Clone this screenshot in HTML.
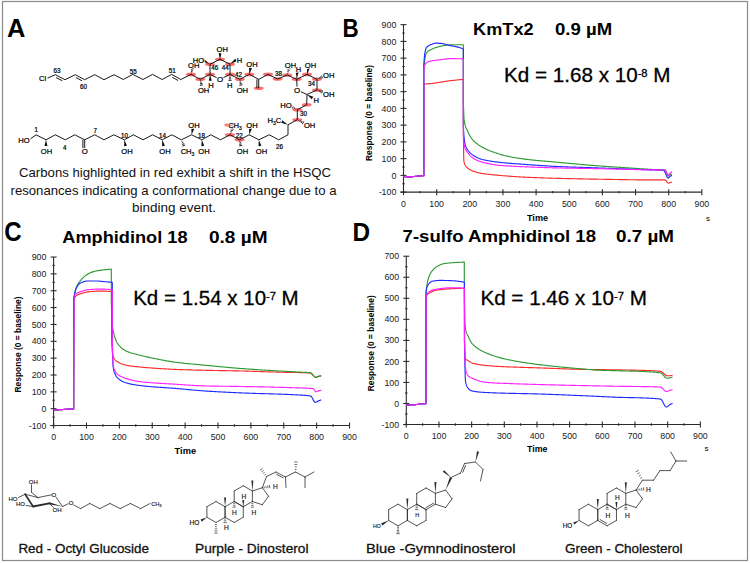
<!DOCTYPE html>
<html><head><meta charset="utf-8"><style>
html,body{margin:0;padding:0;background:#fff;}
svg{display:block;}
text{font-family:"Liberation Sans", sans-serif;}
</style></head><body>
<svg width="750" height="563" viewBox="0 0 750 563" font-family="Liberation Sans, sans-serif">
<rect width="750" height="563" fill="#fff"/>
<rect x="2.5" y="1.5" width="745" height="559" fill="none" stroke="#8a8a8a" stroke-width="1.2"/>
<text x="7.00" y="36.90" font-size="25.8" font-weight="bold" text-anchor="start" fill="#000" textLength="18.40" lengthAdjust="spacingAndGlyphs" >A</text>
<text x="342.40" y="36.90" font-size="25.8" font-weight="bold" text-anchor="start" fill="#000" textLength="16.20" lengthAdjust="spacingAndGlyphs" >B</text>
<text x="4.20" y="241.00" font-size="26.8" font-weight="bold" text-anchor="start" fill="#000" textLength="17.40" lengthAdjust="spacingAndGlyphs" >C</text>
<text x="352.60" y="241.00" font-size="26.3" font-weight="bold" text-anchor="start" fill="#000" textLength="17.60" lengthAdjust="spacingAndGlyphs" >D</text>
<text x="473.10" y="34.60" font-size="15.8" font-weight="bold" text-anchor="start" fill="#000" textLength="60.60" lengthAdjust="spacingAndGlyphs" >KmTx2</text>
<text x="555.00" y="34.60" font-size="15.8" font-weight="bold" text-anchor="start" fill="#000" textLength="57.10" lengthAdjust="spacingAndGlyphs" >0.9 µM</text>
<text x="62.30" y="242.60" font-size="15.8" font-weight="bold" text-anchor="start" fill="#000" textLength="125.20" lengthAdjust="spacingAndGlyphs" >Amphidinol 18</text>
<text x="209.00" y="242.60" font-size="15.8" font-weight="bold" text-anchor="start" fill="#000" textLength="58.50" lengthAdjust="spacingAndGlyphs" >0.8 µM</text>
<text x="402.60" y="242.40" font-size="15.8" font-weight="bold" text-anchor="start" fill="#000" textLength="193.40" lengthAdjust="spacingAndGlyphs" >7-sulfo Amphidinol 18</text>
<text x="616.00" y="242.40" font-size="15.8" font-weight="bold" text-anchor="start" fill="#000" textLength="58.00" lengthAdjust="spacingAndGlyphs" >0.7 µM</text>
<g stroke="#2b2b2b" stroke-width="1.1" fill="none">
<line x1="403.50" y1="24.65" x2="403.50" y2="192.65"/>
<line x1="400.50" y1="192.15" x2="701.85" y2="192.15"/>
<line x1="400.50" y1="192.15" x2="406.50" y2="192.15"/>
<line x1="402.30" y1="183.78" x2="404.70" y2="183.78"/>
<line x1="400.50" y1="175.40" x2="406.50" y2="175.40"/>
<line x1="402.30" y1="167.03" x2="404.70" y2="167.03"/>
<line x1="400.50" y1="158.65" x2="406.50" y2="158.65"/>
<line x1="402.30" y1="150.28" x2="404.70" y2="150.28"/>
<line x1="400.50" y1="141.90" x2="406.50" y2="141.90"/>
<line x1="402.30" y1="133.53" x2="404.70" y2="133.53"/>
<line x1="400.50" y1="125.15" x2="406.50" y2="125.15"/>
<line x1="402.30" y1="116.78" x2="404.70" y2="116.78"/>
<line x1="400.50" y1="108.40" x2="406.50" y2="108.40"/>
<line x1="402.30" y1="100.03" x2="404.70" y2="100.03"/>
<line x1="400.50" y1="91.65" x2="406.50" y2="91.65"/>
<line x1="402.30" y1="83.28" x2="404.70" y2="83.28"/>
<line x1="400.50" y1="74.90" x2="406.50" y2="74.90"/>
<line x1="402.30" y1="66.53" x2="404.70" y2="66.53"/>
<line x1="400.50" y1="58.15" x2="406.50" y2="58.15"/>
<line x1="402.30" y1="49.77" x2="404.70" y2="49.77"/>
<line x1="400.50" y1="41.40" x2="406.50" y2="41.40"/>
<line x1="402.30" y1="33.03" x2="404.70" y2="33.03"/>
<line x1="400.50" y1="24.65" x2="406.50" y2="24.65"/>
<line x1="403.50" y1="189.15" x2="403.50" y2="195.15"/>
<line x1="420.07" y1="190.95" x2="420.07" y2="193.35"/>
<line x1="436.65" y1="189.15" x2="436.65" y2="195.15"/>
<line x1="453.23" y1="190.95" x2="453.23" y2="193.35"/>
<line x1="469.80" y1="189.15" x2="469.80" y2="195.15"/>
<line x1="486.38" y1="190.95" x2="486.38" y2="193.35"/>
<line x1="502.95" y1="189.15" x2="502.95" y2="195.15"/>
<line x1="519.52" y1="190.95" x2="519.52" y2="193.35"/>
<line x1="536.10" y1="189.15" x2="536.10" y2="195.15"/>
<line x1="552.67" y1="190.95" x2="552.67" y2="193.35"/>
<line x1="569.25" y1="189.15" x2="569.25" y2="195.15"/>
<line x1="585.83" y1="190.95" x2="585.83" y2="193.35"/>
<line x1="602.40" y1="189.15" x2="602.40" y2="195.15"/>
<line x1="618.98" y1="190.95" x2="618.98" y2="193.35"/>
<line x1="635.55" y1="189.15" x2="635.55" y2="195.15"/>
<line x1="652.12" y1="190.95" x2="652.12" y2="193.35"/>
<line x1="668.70" y1="189.15" x2="668.70" y2="195.15"/>
<line x1="685.28" y1="190.95" x2="685.28" y2="193.35"/>
<line x1="701.85" y1="189.15" x2="701.85" y2="195.15"/>
</g>
<text x="396.30" y="195.25" font-size="8.8" font-weight="normal" text-anchor="end" fill="#1a1a1a" >-100</text>
<text x="396.30" y="178.50" font-size="8.8" font-weight="normal" text-anchor="end" fill="#1a1a1a" >0</text>
<text x="396.30" y="161.75" font-size="8.8" font-weight="normal" text-anchor="end" fill="#1a1a1a" >100</text>
<text x="396.30" y="145.00" font-size="8.8" font-weight="normal" text-anchor="end" fill="#1a1a1a" >200</text>
<text x="396.30" y="128.25" font-size="8.8" font-weight="normal" text-anchor="end" fill="#1a1a1a" >300</text>
<text x="396.30" y="111.50" font-size="8.8" font-weight="normal" text-anchor="end" fill="#1a1a1a" >400</text>
<text x="396.30" y="94.75" font-size="8.8" font-weight="normal" text-anchor="end" fill="#1a1a1a" >500</text>
<text x="396.30" y="78.00" font-size="8.8" font-weight="normal" text-anchor="end" fill="#1a1a1a" >600</text>
<text x="396.30" y="61.25" font-size="8.8" font-weight="normal" text-anchor="end" fill="#1a1a1a" >700</text>
<text x="396.30" y="44.50" font-size="8.8" font-weight="normal" text-anchor="end" fill="#1a1a1a" >800</text>
<text x="396.30" y="27.75" font-size="8.8" font-weight="normal" text-anchor="end" fill="#1a1a1a" >900</text>
<text x="403.50" y="206.75" font-size="8.8" font-weight="normal" text-anchor="middle" fill="#1a1a1a" >0</text>
<text x="436.65" y="206.75" font-size="8.8" font-weight="normal" text-anchor="middle" fill="#1a1a1a" >100</text>
<text x="469.80" y="206.75" font-size="8.8" font-weight="normal" text-anchor="middle" fill="#1a1a1a" >200</text>
<text x="502.95" y="206.75" font-size="8.8" font-weight="normal" text-anchor="middle" fill="#1a1a1a" >300</text>
<text x="536.10" y="206.75" font-size="8.8" font-weight="normal" text-anchor="middle" fill="#1a1a1a" >400</text>
<text x="569.25" y="206.75" font-size="8.8" font-weight="normal" text-anchor="middle" fill="#1a1a1a" >500</text>
<text x="602.40" y="206.75" font-size="8.8" font-weight="normal" text-anchor="middle" fill="#1a1a1a" >600</text>
<text x="635.55" y="206.75" font-size="8.8" font-weight="normal" text-anchor="middle" fill="#1a1a1a" >700</text>
<text x="668.70" y="206.75" font-size="8.8" font-weight="normal" text-anchor="middle" fill="#1a1a1a" >800</text>
<text x="701.85" y="206.75" font-size="8.8" font-weight="normal" text-anchor="middle" fill="#1a1a1a" >900</text>
<path d="M403.50,176.41 L404.57,176.56 L405.64,176.69 L406.71,176.78 L407.78,176.85 L408.85,176.89 L409.92,176.91 L410.99,176.88 L412.06,176.80 L413.13,176.68 L414.20,176.54 L415.26,176.40 L416.33,176.28 L417.40,176.18 L418.47,176.10 L419.54,176.02 L420.61,175.94 L421.68,175.87 L422.75,175.80 L423.82,175.74 L423.82,175.74 L423.82,84.11 L423.83,84.11 L423.85,84.11 L423.90,84.11 L423.95,84.11 L424.03,84.10 L424.12,84.10 L424.23,84.09 L424.35,84.08 L424.49,84.08 L424.65,84.07 L424.83,84.06 L425.02,84.04 L425.22,84.03 L425.45,84.02 L425.69,84.00 L425.95,83.98 L426.22,83.96 L426.51,83.94 L426.82,83.92 L427.14,83.89 L427.48,83.86 L427.84,83.83 L428.21,83.80 L428.60,83.77 L429.01,83.73 L429.43,83.69 L429.87,83.65 L430.33,83.60 L430.80,83.55 L431.29,83.50 L431.80,83.45 L432.32,83.39 L432.86,83.33 L433.42,83.27 L433.99,83.20 L434.58,83.12 L435.18,83.03 L435.81,82.94 L436.44,82.84 L437.10,82.73 L437.77,82.62 L438.46,82.51 L439.17,82.39 L439.89,82.28 L440.63,82.17 L441.38,82.05 L442.15,81.93 L442.94,81.80 L443.75,81.67 L444.57,81.54 L445.41,81.41 L446.26,81.27 L447.13,81.14 L448.02,81.01 L448.93,80.89 L449.85,80.77 L450.79,80.66 L451.74,80.54 L452.71,80.43 L453.70,80.32 L454.70,80.20 L455.72,80.09 L456.76,79.99 L457.82,79.88 L458.89,79.78 L459.97,79.68 L461.08,79.59 L462.20,79.50 L463.34,79.41 L463.34,79.41 L463.37,125.15 L463.39,126.92 L463.41,128.82 L463.43,130.86 L463.45,133.04 L463.47,135.34 L463.50,137.78 L463.52,140.32 L463.55,142.94 L463.58,145.62 L463.61,148.31 L463.64,150.96 L463.67,153.50 L463.71,155.83 L463.75,157.84 L463.78,159.37 L463.83,160.26 L463.87,160.61 L463.92,160.95 L463.97,161.28 L464.02,161.61 L464.07,161.93 L464.13,162.24 L464.19,162.54 L464.25,162.82 L464.32,163.09 L464.36,163.24 L464.39,163.35 L464.47,163.59 L464.55,163.81 L464.63,164.02 L464.72,164.21 L464.81,164.40 L464.91,164.58 L465.02,164.76 L465.13,164.96 L465.24,165.18 L465.36,165.38 L465.37,165.40 L465.50,165.61 L465.63,165.83 L465.78,166.05 L465.93,166.26 L466.09,166.47 L466.26,166.68 L466.35,166.78 L466.44,166.89 L466.63,167.09 L466.83,167.29 L467.04,167.48 L467.27,167.68 L467.35,167.75 L467.50,167.88 L467.75,168.09 L468.01,168.30 L468.29,168.51 L468.34,168.55 L468.58,168.73 L468.89,168.96 L469.22,169.18 L469.34,169.26 L469.56,169.41 L469.92,169.64 L470.31,169.87 L470.33,169.88 L470.71,170.09 L471.14,170.32 L471.32,170.41 L471.59,170.54 L472.07,170.75 L472.32,170.86 L472.57,170.96 L473.10,171.16 L473.31,171.24 L473.66,171.36 L474.25,171.57 L474.31,171.59 L474.87,171.77 L475.30,171.90 L475.53,171.97 L476.23,172.18 L476.30,172.20 L476.96,172.38 L477.29,172.46 L477.74,172.58 L478.29,172.71 L478.56,172.77 L479.28,172.93 L479.42,172.96 L480.28,173.13 L480.33,173.14 L481.27,173.31 L481.29,173.32 L482.26,173.48 L482.31,173.48 L483.26,173.63 L483.38,173.65 L484.25,173.78 L484.52,173.82 L485.25,173.92 L485.71,173.98 L486.24,174.05 L486.97,174.14 L487.24,174.18 L488.23,174.29 L488.31,174.30 L489.23,174.41 L489.71,174.46 L490.22,174.52 L491.20,174.62 L491.21,174.62 L492.21,174.72 L492.76,174.78 L493.20,174.82 L494.20,174.92 L494.42,174.94 L495.19,175.01 L496.17,175.10 L496.19,175.10 L497.18,175.19 L498.01,175.26 L498.18,175.27 L499.17,175.36 L499.96,175.43 L500.17,175.45 L501.16,175.53 L502.01,175.60 L502.15,175.62 L503.15,175.70 L504.14,175.78 L504.18,175.79 L505.14,175.86 L506.13,175.94 L506.47,175.97 L507.13,176.02 L508.12,176.10 L508.89,176.16 L509.12,176.18 L510.11,176.25 L511.10,176.33 L511.44,176.35 L512.10,176.40 L513.09,176.47 L514.09,176.54 L514.14,176.54 L515.08,176.61 L516.08,176.67 L516.98,176.73 L517.07,176.74 L518.07,176.80 L519.06,176.86 L519.98,176.92 L520.06,176.92 L521.05,176.98 L522.04,177.03 L523.04,177.09 L523.15,177.09 L524.03,177.14 L525.03,177.19 L526.02,177.24 L526.50,177.26 L527.02,177.28 L528.01,177.33 L529.01,177.37 L530.00,177.42 L530.03,177.42 L530.99,177.46 L531.99,177.50 L532.98,177.54 L533.76,177.57 L533.98,177.58 L534.97,177.62 L535.97,177.65 L536.96,177.69 L537.70,177.72 L537.96,177.73 L538.95,177.76 L539.95,177.80 L540.94,177.83 L541.86,177.86 L541.93,177.87 L542.93,177.90 L543.92,177.93 L544.92,177.96 L545.91,177.99 L546.24,178.00 L546.91,178.02 L547.90,178.05 L548.90,178.08 L549.89,178.11 L550.88,178.14 L550.88,178.14 L551.88,178.17 L552.87,178.20 L553.87,178.23 L554.86,178.25 L555.76,178.28 L555.86,178.28 L556.85,178.31 L557.85,178.33 L558.84,178.36 L559.84,178.39 L560.83,178.41 L560.93,178.42 L561.82,178.44 L562.82,178.46 L563.81,178.49 L564.81,178.52 L565.80,178.54 L566.38,178.55 L566.80,178.57 L567.79,178.59 L568.79,178.61 L569.78,178.64 L570.77,178.66 L571.77,178.69 L572.13,178.69 L572.76,178.71 L573.76,178.73 L574.75,178.75 L575.75,178.78 L576.74,178.80 L577.74,178.82 L578.20,178.83 L578.73,178.84 L579.73,178.86 L580.72,178.89 L581.71,178.91 L582.71,178.93 L583.70,178.95 L584.61,178.97 L584.70,178.97 L585.69,178.99 L586.69,179.01 L587.68,179.03 L588.68,179.05 L589.67,179.07 L590.66,179.08 L591.38,179.10 L591.66,179.10 L592.65,179.12 L593.65,179.14 L594.64,179.16 L595.64,179.17 L596.63,179.19 L597.63,179.21 L598.52,179.22 L598.62,179.22 L599.62,179.24 L600.61,179.26 L601.60,179.27 L602.60,179.29 L603.59,179.30 L604.59,179.32 L605.58,179.34 L606.06,179.34 L606.58,179.35 L607.57,179.37 L608.57,179.39 L609.56,179.40 L610.55,179.42 L611.55,179.44 L612.54,179.45 L613.54,179.47 L614.03,179.48 L614.53,179.49 L615.53,179.50 L616.52,179.52 L617.52,179.53 L618.51,179.55 L619.51,179.57 L620.50,179.58 L621.49,179.60 L622.43,179.61 L622.49,179.61 L623.48,179.63 L624.48,179.65 L625.47,179.66 L626.47,179.68 L627.46,179.69 L628.46,179.70 L629.45,179.72 L630.44,179.73 L631.30,179.74 L631.44,179.74 L632.43,179.76 L633.43,179.77 L634.42,179.78 L635.42,179.79 L636.41,179.81 L637.41,179.82 L638.40,179.83 L639.40,179.84 L640.39,179.85 L640.67,179.85 L641.38,179.86 L642.38,179.86 L643.37,179.87 L644.37,179.88 L645.36,179.89 L646.36,179.89 L647.35,179.90 L648.35,179.90 L649.34,179.91 L650.33,179.91 L650.56,179.91 L651.33,179.92 L652.32,179.92 L653.32,179.92 L654.31,179.92 L655.31,179.92 L656.30,179.92 L657.30,179.92 L658.29,179.92 L659.29,179.92 L660.28,179.92 L661.00,179.92 L661.27,179.92 L662.27,179.92 L663.26,179.92 L664.26,179.92 L665.25,179.92 L666.25,180.71 L667.24,182.42 L668.24,183.10 L669.23,182.85 L670.22,182.55 L671.22,182.30 L672.01,182.10" fill="none" stroke="#ff2a2a" stroke-width="1.15" stroke-linejoin="round"/>
<path d="M403.50,176.41 L404.57,176.56 L405.64,176.69 L406.71,176.78 L407.78,176.85 L408.85,176.89 L409.92,176.91 L410.99,176.88 L412.06,176.80 L413.13,176.68 L414.20,176.54 L415.26,176.40 L416.33,176.28 L417.40,176.18 L418.47,176.10 L419.54,176.02 L420.61,175.94 L421.68,175.87 L422.75,175.80 L423.82,175.74 L423.82,175.74 L423.82,68.20 L423.83,68.11 L423.85,67.86 L423.90,67.44 L423.95,66.85 L424.03,66.11 L424.12,65.23 L424.23,64.21 L424.35,63.10 L424.49,61.90 L424.65,60.67 L424.83,59.46 L425.02,58.32 L425.22,57.25 L425.45,56.16 L425.69,55.10 L425.95,54.15 L426.22,53.40 L426.51,52.93 L426.82,52.54 L427.14,52.16 L427.48,51.80 L427.84,51.47 L428.21,51.16 L428.60,50.87 L429.01,50.61 L429.43,50.37 L429.87,50.14 L430.33,49.92 L430.80,49.70 L431.29,49.47 L431.80,49.22 L432.32,48.98 L432.86,48.74 L433.42,48.50 L433.99,48.26 L434.58,48.03 L435.18,47.80 L435.81,47.58 L436.44,47.37 L437.10,47.16 L437.77,46.97 L438.46,46.78 L439.17,46.61 L439.89,46.44 L440.63,46.28 L441.38,46.12 L442.15,45.96 L442.94,45.80 L443.75,45.65 L444.57,45.50 L445.41,45.36 L446.26,45.23 L447.13,45.12 L448.02,45.03 L448.93,44.96 L449.85,44.92 L450.79,44.90 L451.74,44.88 L452.71,44.86 L453.70,44.84 L454.70,44.82 L455.72,44.80 L456.76,44.79 L457.82,44.78 L458.89,44.77 L459.97,44.76 L461.08,44.75 L462.20,44.75 L463.34,44.75 L463.34,44.75 L463.44,105.05 L463.45,105.49 L463.47,105.97 L463.49,106.48 L463.52,107.02 L463.54,107.60 L463.56,108.21 L463.59,108.87 L463.62,109.56 L463.64,110.29 L463.67,111.05 L463.71,111.85 L463.74,112.69 L463.77,113.54 L463.81,114.42 L463.85,115.31 L463.89,116.20 L463.94,117.07 L463.98,117.91 L464.03,118.69 L464.08,119.37 L464.14,119.92 L464.20,120.33 L464.26,120.72 L464.32,121.11 L464.39,121.52 L464.43,121.76 L464.46,121.93 L464.53,122.35 L464.61,122.77 L464.70,123.19 L464.79,123.62 L464.88,124.05 L464.98,124.48 L465.08,124.90 L465.19,125.32 L465.31,125.74 L465.42,126.12 L465.43,126.15 L465.56,126.56 L465.70,126.95 L465.85,127.34 L466.00,127.72 L466.16,128.10 L466.33,128.47 L466.42,128.66 L466.51,128.85 L466.70,129.23 L466.90,129.62 L467.11,130.05 L467.33,130.52 L467.41,130.70 L467.57,131.05 L467.82,131.60 L468.08,132.18 L468.35,132.76 L468.41,132.88 L468.65,133.37 L468.96,133.99 L469.28,134.62 L469.40,134.84 L469.63,135.25 L469.99,135.90 L470.37,136.55 L470.40,136.59 L470.78,137.20 L471.20,137.85 L471.39,138.12 L471.65,138.49 L472.13,139.12 L472.39,139.43 L472.63,139.72 L473.16,140.30 L473.38,140.54 L473.72,140.89 L474.31,141.48 L474.37,141.54 L474.94,142.07 L475.37,142.45 L475.60,142.65 L476.29,143.24 L476.36,143.29 L477.03,143.82 L477.36,144.07 L477.80,144.40 L478.35,144.79 L478.62,144.97 L479.35,145.46 L479.48,145.54 L480.34,146.09 L480.39,146.12 L481.34,146.69 L481.36,146.70 L482.33,147.27 L482.37,147.29 L483.33,147.82 L483.45,147.88 L484.32,148.34 L484.58,148.47 L485.31,148.83 L485.77,149.05 L486.31,149.30 L487.03,149.63 L487.30,149.75 L488.30,150.17 L488.37,150.20 L489.29,150.58 L489.77,150.76 L490.29,150.96 L491.26,151.33 L491.28,151.33 L492.28,151.70 L492.82,151.90 L493.27,152.06 L494.26,152.41 L494.48,152.48 L495.26,152.75 L496.23,153.08 L496.25,153.08 L497.25,153.41 L498.07,153.67 L498.24,153.73 L499.24,154.04 L500.02,154.27 L500.23,154.34 L501.23,154.63 L502.07,154.87 L502.22,154.91 L503.22,155.18 L504.21,155.45 L504.24,155.45 L505.20,155.70 L506.20,155.94 L506.53,156.02 L507.19,156.17 L508.19,156.39 L508.95,156.55 L509.18,156.60 L510.18,156.80 L511.17,157.00 L511.50,157.06 L512.17,157.19 L513.16,157.37 L514.15,157.55 L514.19,157.56 L515.15,157.72 L516.14,157.89 L517.03,158.04 L517.14,158.05 L518.13,158.21 L519.13,158.36 L520.04,158.50 L520.12,158.51 L521.12,158.66 L522.11,158.80 L523.11,158.93 L523.21,158.94 L524.10,159.06 L525.09,159.19 L526.09,159.31 L526.55,159.37 L527.08,159.43 L528.08,159.55 L529.07,159.66 L530.07,159.77 L530.08,159.77 L531.06,159.88 L532.06,159.98 L533.05,160.08 L533.81,160.16 L534.04,160.18 L535.04,160.28 L536.03,160.37 L537.03,160.46 L537.75,160.53 L538.02,160.56 L539.02,160.65 L540.01,160.73 L541.01,160.82 L541.90,160.90 L542.00,160.91 L543.00,160.99 L543.99,161.08 L544.98,161.16 L545.98,161.25 L546.29,161.27 L546.97,161.33 L547.97,161.42 L548.96,161.50 L549.96,161.58 L550.92,161.67 L550.95,161.67 L551.95,161.76 L552.94,161.85 L553.93,161.93 L554.93,162.02 L555.81,162.10 L555.92,162.11 L556.92,162.21 L557.91,162.30 L558.91,162.39 L559.90,162.48 L560.90,162.57 L560.97,162.58 L561.89,162.66 L562.89,162.76 L563.88,162.85 L564.87,162.94 L565.87,163.03 L566.41,163.08 L566.86,163.12 L567.86,163.21 L568.85,163.31 L569.85,163.40 L570.84,163.49 L571.84,163.58 L572.16,163.61 L572.83,163.67 L573.82,163.76 L574.82,163.85 L575.81,163.94 L576.81,164.03 L577.80,164.12 L578.23,164.16 L578.80,164.21 L579.79,164.30 L580.79,164.39 L581.78,164.48 L582.78,164.57 L583.77,164.65 L584.64,164.73 L584.76,164.74 L585.76,164.83 L586.75,164.91 L587.75,165.00 L588.74,165.08 L589.74,165.17 L590.73,165.25 L591.41,165.31 L591.73,165.33 L592.72,165.41 L593.71,165.50 L594.71,165.58 L595.70,165.65 L596.70,165.73 L597.69,165.81 L598.55,165.88 L598.69,165.89 L599.68,165.96 L600.68,166.04 L601.67,166.11 L602.67,166.19 L603.66,166.26 L604.65,166.33 L605.65,166.40 L606.09,166.43 L606.64,166.47 L607.64,166.54 L608.63,166.61 L609.63,166.68 L610.62,166.75 L611.62,166.81 L612.61,166.88 L613.60,166.94 L614.05,166.97 L614.60,167.01 L615.59,167.07 L616.59,167.14 L617.58,167.20 L618.58,167.27 L619.57,167.33 L620.57,167.40 L621.56,167.46 L622.45,167.52 L622.56,167.52 L623.55,167.59 L624.54,167.65 L625.54,167.71 L626.53,167.78 L627.53,167.84 L628.52,167.90 L629.52,167.97 L630.51,168.03 L631.32,168.09 L631.51,168.10 L632.50,168.16 L633.49,168.23 L634.49,168.29 L635.48,168.36 L636.48,168.43 L637.47,168.50 L638.47,168.57 L639.46,168.64 L640.46,168.71 L640.68,168.73 L641.45,168.78 L642.45,168.85 L643.44,168.92 L644.43,168.99 L645.43,169.06 L646.42,169.13 L647.42,169.19 L648.41,169.25 L649.41,169.31 L650.40,169.37 L650.57,169.38 L651.40,169.42 L652.39,169.45 L653.38,169.49 L654.38,169.51 L655.37,169.54 L656.37,169.56 L657.36,169.58 L658.36,169.61 L659.35,169.64 L660.35,169.67 L661.00,169.70 L661.34,169.72 L662.34,169.78 L663.33,169.85 L664.32,169.93 L665.32,170.03 L666.31,171.78 L667.31,174.97 L668.30,176.02 L669.30,175.27 L670.29,174.61 L671.29,174.24 L672.01,174.06" fill="none" stroke="#2e9a35" stroke-width="1.15" stroke-linejoin="round"/>
<path d="M403.50,176.41 L404.57,176.56 L405.64,176.69 L406.71,176.78 L407.78,176.85 L408.85,176.89 L409.92,176.91 L410.99,176.88 L412.06,176.80 L413.13,176.68 L414.20,176.54 L415.26,176.40 L416.33,176.28 L417.40,176.18 L418.47,176.10 L419.54,176.02 L420.61,175.94 L421.68,175.87 L422.75,175.80 L423.82,175.74 L423.82,175.74 L423.82,64.85 L423.83,64.72 L423.85,64.35 L423.90,63.72 L423.95,62.85 L424.03,61.74 L424.12,60.42 L424.23,58.93 L424.35,57.34 L424.49,55.78 L424.65,54.40 L424.83,53.32 L425.02,52.27 L425.22,51.24 L425.45,50.26 L425.69,49.37 L425.95,48.60 L426.22,48.00 L426.51,47.59 L426.82,47.23 L427.14,46.88 L427.48,46.54 L427.84,46.23 L428.21,45.94 L428.60,45.67 L429.01,45.42 L429.43,45.19 L429.87,44.99 L430.33,44.79 L430.80,44.61 L431.29,44.43 L431.80,44.26 L432.32,44.07 L432.86,43.89 L433.42,43.71 L433.99,43.54 L434.58,43.39 L435.18,43.26 L435.81,43.16 L436.44,43.09 L437.10,43.08 L437.77,43.10 L438.46,43.15 L439.17,43.22 L439.89,43.31 L440.63,43.42 L441.38,43.55 L442.15,43.67 L442.94,43.80 L443.75,43.94 L444.57,44.11 L445.41,44.30 L446.26,44.51 L447.13,44.73 L448.02,44.96 L448.93,45.18 L449.85,45.41 L450.79,45.62 L451.74,45.83 L452.71,46.03 L453.70,46.24 L454.70,46.45 L455.72,46.67 L456.76,46.90 L457.82,47.15 L458.89,47.43 L459.97,47.73 L461.08,48.07 L462.20,48.50 L463.34,49.01 L463.34,49.01 L463.37,125.15 L463.39,125.59 L463.41,126.05 L463.43,126.53 L463.45,127.05 L463.47,127.59 L463.50,128.16 L463.52,128.75 L463.55,129.37 L463.58,130.00 L463.61,130.66 L463.64,131.32 L463.67,131.99 L463.71,132.65 L463.75,133.29 L463.78,133.89 L463.83,134.45 L463.87,134.96 L463.92,135.49 L463.97,136.02 L464.02,136.57 L464.07,137.13 L464.13,137.70 L464.19,138.28 L464.25,138.86 L464.32,139.45 L464.36,139.79 L464.39,140.03 L464.47,140.62 L464.55,141.20 L464.63,141.76 L464.72,142.32 L464.81,142.86 L464.91,143.37 L465.02,143.85 L465.13,144.30 L465.24,144.72 L465.36,145.10 L465.37,145.13 L465.50,145.54 L465.63,145.95 L465.78,146.35 L465.93,146.75 L466.09,147.14 L466.26,147.51 L466.35,147.70 L466.44,147.88 L466.63,148.24 L466.83,148.60 L467.04,148.94 L467.27,149.29 L467.35,149.41 L467.50,149.64 L467.75,149.99 L468.01,150.36 L468.29,150.72 L468.34,150.79 L468.58,151.09 L468.89,151.47 L469.22,151.84 L469.34,151.98 L469.56,152.22 L469.92,152.60 L470.31,152.98 L470.33,153.00 L470.71,153.35 L471.14,153.72 L471.32,153.88 L471.59,154.09 L472.07,154.46 L472.32,154.64 L472.57,154.82 L473.10,155.18 L473.31,155.32 L473.66,155.54 L474.25,155.92 L474.31,155.95 L474.87,156.30 L475.30,156.55 L475.53,156.68 L476.23,157.07 L476.30,157.11 L476.96,157.46 L477.29,157.62 L477.74,157.84 L478.29,158.09 L478.56,158.21 L479.28,158.51 L479.42,158.56 L480.28,158.88 L480.33,158.89 L481.27,159.19 L481.29,159.20 L482.26,159.46 L482.31,159.47 L483.26,159.71 L483.38,159.74 L484.25,159.94 L484.52,160.00 L485.25,160.16 L485.71,160.26 L486.24,160.37 L486.97,160.51 L487.24,160.57 L488.23,160.75 L488.31,160.76 L489.23,160.93 L489.71,161.01 L490.22,161.09 L491.20,161.25 L491.21,161.25 L492.21,161.40 L492.76,161.48 L493.20,161.54 L494.20,161.68 L494.42,161.71 L495.19,161.81 L496.17,161.93 L496.19,161.93 L497.18,162.05 L498.01,162.15 L498.18,162.17 L499.17,162.28 L499.96,162.37 L500.17,162.39 L501.16,162.50 L502.01,162.59 L502.15,162.61 L503.15,162.71 L504.14,162.81 L504.18,162.81 L505.14,162.90 L506.13,162.99 L506.47,163.03 L507.13,163.08 L508.12,163.17 L508.89,163.24 L509.12,163.26 L510.11,163.34 L511.10,163.42 L511.44,163.44 L512.10,163.50 L513.09,163.57 L514.09,163.65 L514.14,163.65 L515.08,163.72 L516.08,163.80 L516.98,163.86 L517.07,163.87 L518.07,163.94 L519.06,164.01 L519.98,164.07 L520.06,164.08 L521.05,164.15 L522.04,164.22 L523.04,164.29 L523.15,164.30 L524.03,164.36 L525.03,164.43 L526.02,164.50 L526.50,164.54 L527.02,164.57 L528.01,164.65 L529.01,164.72 L530.00,164.79 L530.03,164.79 L530.99,164.86 L531.99,164.93 L532.98,165.01 L533.76,165.06 L533.98,165.08 L534.97,165.15 L535.97,165.22 L536.96,165.29 L537.70,165.34 L537.96,165.36 L538.95,165.42 L539.95,165.49 L540.94,165.56 L541.86,165.62 L541.93,165.62 L542.93,165.69 L543.92,165.75 L544.92,165.81 L545.91,165.87 L546.24,165.89 L546.91,165.93 L547.90,165.99 L548.90,166.05 L549.89,166.11 L550.88,166.16 L550.88,166.16 L551.88,166.22 L552.87,166.27 L553.87,166.32 L554.86,166.36 L555.76,166.41 L555.86,166.41 L556.85,166.46 L557.85,166.50 L558.84,166.55 L559.84,166.59 L560.83,166.63 L560.93,166.64 L561.82,166.67 L562.82,166.71 L563.81,166.76 L564.81,166.79 L565.80,166.83 L566.38,166.86 L566.80,166.87 L567.79,166.91 L568.79,166.95 L569.78,166.98 L570.77,167.02 L571.77,167.06 L572.13,167.07 L572.76,167.09 L573.76,167.13 L574.75,167.16 L575.75,167.19 L576.74,167.23 L577.74,167.26 L578.20,167.28 L578.73,167.30 L579.73,167.33 L580.72,167.36 L581.71,167.40 L582.71,167.43 L583.70,167.46 L584.61,167.49 L584.70,167.49 L585.69,167.53 L586.69,167.56 L587.68,167.59 L588.68,167.62 L589.67,167.66 L590.66,167.69 L591.38,167.71 L591.66,167.72 L592.65,167.76 L593.65,167.79 L594.64,167.83 L595.64,167.86 L596.63,167.89 L597.63,167.93 L598.52,167.96 L598.62,167.97 L599.62,168.00 L600.61,168.04 L601.60,168.07 L602.60,168.11 L603.59,168.15 L604.59,168.18 L605.58,168.22 L606.06,168.24 L606.58,168.26 L607.57,168.29 L608.57,168.33 L609.56,168.37 L610.55,168.40 L611.55,168.44 L612.54,168.47 L613.54,168.51 L614.03,168.53 L614.53,168.55 L615.53,168.58 L616.52,168.62 L617.52,168.66 L618.51,168.69 L619.51,168.73 L620.50,168.77 L621.49,168.80 L622.43,168.84 L622.49,168.84 L623.48,168.87 L624.48,168.91 L625.47,168.95 L626.47,168.98 L627.46,169.02 L628.46,169.06 L629.45,169.09 L630.44,169.13 L631.30,169.16 L631.44,169.17 L632.43,169.20 L633.43,169.24 L634.42,169.28 L635.42,169.31 L636.41,169.35 L637.41,169.39 L638.40,169.42 L639.40,169.46 L640.39,169.50 L640.67,169.51 L641.38,169.53 L642.38,169.57 L643.37,169.61 L644.37,169.64 L645.36,169.68 L646.36,169.72 L647.35,169.76 L648.35,169.79 L649.34,169.83 L650.33,169.87 L650.56,169.88 L651.33,169.90 L652.32,169.93 L653.32,169.96 L654.31,169.98 L655.31,170.00 L656.30,170.02 L657.30,170.04 L658.29,170.07 L659.29,170.11 L660.28,170.15 L661.00,170.18 L661.27,170.20 L662.27,170.26 L663.26,170.34 L664.26,170.73 L665.25,172.64 L666.25,175.23 L667.24,177.40 L668.24,178.04 L669.23,177.18 L670.22,176.28 L671.22,175.73 L672.01,175.40" fill="none" stroke="#1f2cff" stroke-width="1.15" stroke-linejoin="round"/>
<path d="M403.50,176.41 L404.57,176.56 L405.64,176.69 L406.71,176.78 L407.78,176.85 L408.85,176.89 L409.92,176.91 L410.99,176.88 L412.06,176.80 L413.13,176.68 L414.20,176.54 L415.26,176.40 L416.33,176.28 L417.40,176.18 L418.47,176.10 L419.54,176.02 L420.61,175.94 L421.68,175.87 L422.75,175.80 L423.82,175.74 L423.82,175.74 L423.82,68.20 L423.83,68.17 L423.85,68.09 L423.90,67.95 L423.95,67.76 L424.03,67.51 L424.12,67.21 L424.23,66.86 L424.35,66.46 L424.49,66.02 L424.65,65.55 L424.83,65.08 L425.02,64.63 L425.22,64.23 L425.45,63.93 L425.69,63.66 L425.95,63.39 L426.22,63.12 L426.51,62.86 L426.82,62.62 L427.14,62.38 L427.48,62.16 L427.84,61.97 L428.21,61.79 L428.60,61.63 L429.01,61.50 L429.43,61.39 L429.87,61.28 L430.33,61.17 L430.80,61.06 L431.29,60.96 L431.80,60.87 L432.32,60.78 L432.86,60.69 L433.42,60.61 L433.99,60.53 L434.58,60.45 L435.18,60.38 L435.81,60.30 L436.44,60.23 L437.10,60.16 L437.77,60.09 L438.46,60.01 L439.17,59.93 L439.89,59.84 L440.63,59.73 L441.38,59.62 L442.15,59.50 L442.94,59.38 L443.75,59.25 L444.57,59.13 L445.41,59.01 L446.26,58.90 L447.13,58.80 L448.02,58.72 L448.93,58.67 L449.85,58.65 L450.79,58.65 L451.74,58.65 L452.71,58.66 L453.70,58.66 L454.70,58.67 L455.72,58.68 L456.76,58.70 L457.82,58.72 L458.89,58.76 L459.97,58.80 L461.08,58.85 L462.20,58.92 L463.34,59.00 L463.34,59.00 L463.37,135.20 L463.39,135.55 L463.41,135.92 L463.43,136.31 L463.45,136.73 L463.47,137.17 L463.50,137.62 L463.52,138.10 L463.55,138.60 L463.58,139.11 L463.61,139.63 L463.64,140.16 L463.67,140.68 L463.71,141.20 L463.75,141.68 L463.78,142.13 L463.83,142.51 L463.87,142.85 L463.92,143.19 L463.97,143.54 L464.02,143.89 L464.07,144.24 L464.13,144.60 L464.19,144.95 L464.25,145.30 L464.32,145.66 L464.36,145.86 L464.39,146.00 L464.47,146.34 L464.55,146.68 L464.63,147.01 L464.72,147.33 L464.81,147.64 L464.91,147.94 L465.02,148.24 L465.13,148.52 L465.24,148.81 L465.36,149.07 L465.37,149.09 L465.50,149.36 L465.63,149.64 L465.78,149.91 L465.93,150.17 L466.09,150.44 L466.26,150.69 L466.35,150.82 L466.44,150.95 L466.63,151.20 L466.83,151.46 L467.04,151.73 L467.27,152.01 L467.35,152.11 L467.50,152.31 L467.75,152.64 L468.01,152.98 L468.29,153.34 L468.34,153.40 L468.58,153.71 L468.89,154.10 L469.22,154.50 L469.34,154.64 L469.56,154.91 L469.92,155.33 L470.31,155.76 L470.33,155.79 L470.71,156.19 L471.14,156.62 L471.32,156.80 L471.59,157.05 L472.07,157.45 L472.32,157.65 L472.57,157.83 L473.10,158.18 L473.31,158.32 L473.66,158.53 L474.25,158.89 L474.31,158.92 L474.87,159.24 L475.30,159.47 L475.53,159.59 L476.23,159.94 L476.30,159.97 L476.96,160.28 L477.29,160.43 L477.74,160.62 L478.29,160.85 L478.56,160.95 L479.28,161.22 L479.42,161.27 L480.28,161.56 L480.33,161.58 L481.27,161.87 L481.29,161.88 L482.26,162.15 L482.31,162.16 L483.26,162.41 L483.38,162.44 L484.25,162.67 L484.52,162.73 L485.25,162.91 L485.71,163.03 L486.24,163.15 L486.97,163.32 L487.24,163.38 L488.23,163.60 L488.31,163.61 L489.23,163.81 L489.71,163.90 L490.22,164.00 L491.20,164.19 L491.21,164.19 L492.21,164.37 L492.76,164.46 L493.20,164.53 L494.20,164.69 L494.42,164.72 L495.19,164.84 L496.17,164.97 L496.19,164.97 L497.18,165.09 L498.01,165.19 L498.18,165.21 L499.17,165.31 L499.96,165.38 L500.17,165.40 L501.16,165.48 L502.01,165.55 L502.15,165.57 L503.15,165.64 L504.14,165.72 L504.18,165.72 L505.14,165.79 L506.13,165.86 L506.47,165.88 L507.13,165.93 L508.12,165.99 L508.89,166.04 L509.12,166.05 L510.11,166.11 L511.10,166.16 L511.44,166.18 L512.10,166.22 L513.09,166.27 L514.09,166.32 L514.14,166.32 L515.08,166.37 L516.08,166.42 L516.98,166.46 L517.07,166.46 L518.07,166.51 L519.06,166.55 L519.98,166.59 L520.06,166.59 L521.05,166.64 L522.04,166.68 L523.04,166.72 L523.15,166.73 L524.03,166.77 L525.03,166.81 L526.02,166.85 L526.50,166.87 L527.02,166.89 L528.01,166.94 L529.01,166.98 L530.00,167.02 L530.03,167.02 L530.99,167.06 L531.99,167.10 L532.98,167.14 L533.76,167.18 L533.98,167.18 L534.97,167.22 L535.97,167.26 L536.96,167.30 L537.70,167.33 L537.96,167.34 L538.95,167.37 L539.95,167.41 L540.94,167.45 L541.86,167.48 L541.93,167.48 L542.93,167.52 L543.92,167.55 L544.92,167.58 L545.91,167.61 L546.24,167.62 L546.91,167.65 L547.90,167.68 L548.90,167.71 L549.89,167.73 L550.88,167.76 L550.88,167.76 L551.88,167.79 L552.87,167.82 L553.87,167.84 L554.86,167.87 L555.76,167.89 L555.86,167.89 L556.85,167.92 L557.85,167.94 L558.84,167.96 L559.84,167.98 L560.83,168.00 L560.93,168.01 L561.82,168.02 L562.82,168.04 L563.81,168.06 L564.81,168.08 L565.80,168.10 L566.38,168.11 L566.80,168.12 L567.79,168.14 L568.79,168.16 L569.78,168.18 L570.77,168.19 L571.77,168.21 L572.13,168.22 L572.76,168.23 L573.76,168.24 L574.75,168.26 L575.75,168.28 L576.74,168.29 L577.74,168.31 L578.20,168.32 L578.73,168.32 L579.73,168.34 L580.72,168.36 L581.71,168.37 L582.71,168.39 L583.70,168.40 L584.61,168.42 L584.70,168.42 L585.69,168.44 L586.69,168.45 L587.68,168.47 L588.68,168.49 L589.67,168.50 L590.66,168.52 L591.38,168.53 L591.66,168.54 L592.65,168.55 L593.65,168.57 L594.64,168.59 L595.64,168.61 L596.63,168.63 L597.63,168.64 L598.52,168.66 L598.62,168.66 L599.62,168.68 L600.61,168.70 L601.60,168.72 L602.60,168.75 L603.59,168.77 L604.59,168.79 L605.58,168.81 L606.06,168.82 L606.58,168.84 L607.57,168.86 L608.57,168.88 L609.56,168.91 L610.55,168.93 L611.55,168.96 L612.54,168.98 L613.54,169.01 L614.03,169.02 L614.53,169.04 L615.53,169.06 L616.52,169.09 L617.52,169.11 L618.51,169.14 L619.51,169.17 L620.50,169.19 L621.49,169.22 L622.43,169.25 L622.49,169.25 L623.48,169.27 L624.48,169.30 L625.47,169.33 L626.47,169.35 L627.46,169.38 L628.46,169.40 L629.45,169.43 L630.44,169.46 L631.30,169.48 L631.44,169.48 L632.43,169.51 L633.43,169.53 L634.42,169.55 L635.42,169.58 L636.41,169.60 L637.41,169.62 L638.40,169.65 L639.40,169.67 L640.39,169.69 L640.67,169.70 L641.38,169.71 L642.38,169.73 L643.37,169.75 L644.37,169.77 L645.36,169.79 L646.36,169.81 L647.35,169.82 L648.35,169.84 L649.34,169.86 L650.33,169.87 L650.56,169.87 L651.33,169.88 L652.32,169.89 L653.32,169.90 L654.31,169.91 L655.31,169.91 L656.30,169.92 L657.30,169.93 L658.29,169.93 L659.29,169.94 L660.28,169.95 L661.00,169.95 L661.27,169.96 L662.27,169.97 L663.26,169.99 L664.26,170.01 L665.25,170.04 L666.25,171.38 L667.24,174.25 L668.24,175.35 L669.23,174.11 L670.22,172.90 L671.22,172.23 L672.01,171.88" fill="none" stroke="#ff1fff" stroke-width="1.15" stroke-linejoin="round"/>
<g stroke="#2b2b2b" stroke-width="1.1" fill="none">
<line x1="53.60" y1="257.05" x2="53.60" y2="426.05"/>
<line x1="50.60" y1="425.55" x2="349.52" y2="425.55"/>
<line x1="50.60" y1="425.55" x2="56.60" y2="425.55"/>
<line x1="52.40" y1="417.12" x2="54.80" y2="417.12"/>
<line x1="50.60" y1="408.70" x2="56.60" y2="408.70"/>
<line x1="52.40" y1="400.27" x2="54.80" y2="400.27"/>
<line x1="50.60" y1="391.85" x2="56.60" y2="391.85"/>
<line x1="52.40" y1="383.43" x2="54.80" y2="383.43"/>
<line x1="50.60" y1="375.00" x2="56.60" y2="375.00"/>
<line x1="52.40" y1="366.57" x2="54.80" y2="366.57"/>
<line x1="50.60" y1="358.15" x2="56.60" y2="358.15"/>
<line x1="52.40" y1="349.72" x2="54.80" y2="349.72"/>
<line x1="50.60" y1="341.30" x2="56.60" y2="341.30"/>
<line x1="52.40" y1="332.88" x2="54.80" y2="332.88"/>
<line x1="50.60" y1="324.45" x2="56.60" y2="324.45"/>
<line x1="52.40" y1="316.02" x2="54.80" y2="316.02"/>
<line x1="50.60" y1="307.60" x2="56.60" y2="307.60"/>
<line x1="52.40" y1="299.17" x2="54.80" y2="299.17"/>
<line x1="50.60" y1="290.75" x2="56.60" y2="290.75"/>
<line x1="52.40" y1="282.32" x2="54.80" y2="282.32"/>
<line x1="50.60" y1="273.90" x2="56.60" y2="273.90"/>
<line x1="52.40" y1="265.47" x2="54.80" y2="265.47"/>
<line x1="50.60" y1="257.05" x2="56.60" y2="257.05"/>
<line x1="53.60" y1="422.55" x2="53.60" y2="428.55"/>
<line x1="70.04" y1="424.35" x2="70.04" y2="426.75"/>
<line x1="86.48" y1="422.55" x2="86.48" y2="428.55"/>
<line x1="102.92" y1="424.35" x2="102.92" y2="426.75"/>
<line x1="119.36" y1="422.55" x2="119.36" y2="428.55"/>
<line x1="135.80" y1="424.35" x2="135.80" y2="426.75"/>
<line x1="152.24" y1="422.55" x2="152.24" y2="428.55"/>
<line x1="168.68" y1="424.35" x2="168.68" y2="426.75"/>
<line x1="185.12" y1="422.55" x2="185.12" y2="428.55"/>
<line x1="201.56" y1="424.35" x2="201.56" y2="426.75"/>
<line x1="218.00" y1="422.55" x2="218.00" y2="428.55"/>
<line x1="234.44" y1="424.35" x2="234.44" y2="426.75"/>
<line x1="250.88" y1="422.55" x2="250.88" y2="428.55"/>
<line x1="267.32" y1="424.35" x2="267.32" y2="426.75"/>
<line x1="283.76" y1="422.55" x2="283.76" y2="428.55"/>
<line x1="300.20" y1="424.35" x2="300.20" y2="426.75"/>
<line x1="316.64" y1="422.55" x2="316.64" y2="428.55"/>
<line x1="333.08" y1="424.35" x2="333.08" y2="426.75"/>
<line x1="349.52" y1="422.55" x2="349.52" y2="428.55"/>
</g>
<text x="46.40" y="428.65" font-size="8.8" font-weight="normal" text-anchor="end" fill="#1a1a1a" >-100</text>
<text x="46.40" y="411.80" font-size="8.8" font-weight="normal" text-anchor="end" fill="#1a1a1a" >0</text>
<text x="46.40" y="394.95" font-size="8.8" font-weight="normal" text-anchor="end" fill="#1a1a1a" >100</text>
<text x="46.40" y="378.10" font-size="8.8" font-weight="normal" text-anchor="end" fill="#1a1a1a" >200</text>
<text x="46.40" y="361.25" font-size="8.8" font-weight="normal" text-anchor="end" fill="#1a1a1a" >300</text>
<text x="46.40" y="344.40" font-size="8.8" font-weight="normal" text-anchor="end" fill="#1a1a1a" >400</text>
<text x="46.40" y="327.55" font-size="8.8" font-weight="normal" text-anchor="end" fill="#1a1a1a" >500</text>
<text x="46.40" y="310.70" font-size="8.8" font-weight="normal" text-anchor="end" fill="#1a1a1a" >600</text>
<text x="46.40" y="293.85" font-size="8.8" font-weight="normal" text-anchor="end" fill="#1a1a1a" >700</text>
<text x="46.40" y="277.00" font-size="8.8" font-weight="normal" text-anchor="end" fill="#1a1a1a" >800</text>
<text x="46.40" y="260.15" font-size="8.8" font-weight="normal" text-anchor="end" fill="#1a1a1a" >900</text>
<text x="53.60" y="440.15" font-size="8.8" font-weight="normal" text-anchor="middle" fill="#1a1a1a" >0</text>
<text x="86.48" y="440.15" font-size="8.8" font-weight="normal" text-anchor="middle" fill="#1a1a1a" >100</text>
<text x="119.36" y="440.15" font-size="8.8" font-weight="normal" text-anchor="middle" fill="#1a1a1a" >200</text>
<text x="152.24" y="440.15" font-size="8.8" font-weight="normal" text-anchor="middle" fill="#1a1a1a" >300</text>
<text x="185.12" y="440.15" font-size="8.8" font-weight="normal" text-anchor="middle" fill="#1a1a1a" >400</text>
<text x="218.00" y="440.15" font-size="8.8" font-weight="normal" text-anchor="middle" fill="#1a1a1a" >500</text>
<text x="250.88" y="440.15" font-size="8.8" font-weight="normal" text-anchor="middle" fill="#1a1a1a" >600</text>
<text x="283.76" y="440.15" font-size="8.8" font-weight="normal" text-anchor="middle" fill="#1a1a1a" >700</text>
<text x="316.64" y="440.15" font-size="8.8" font-weight="normal" text-anchor="middle" fill="#1a1a1a" >800</text>
<text x="349.52" y="440.15" font-size="8.8" font-weight="normal" text-anchor="middle" fill="#1a1a1a" >900</text>
<path d="M53.60,410.05 L54.66,410.00 L55.71,409.96 L56.77,409.90 L57.82,409.85 L58.88,409.79 L59.93,409.73 L60.99,409.65 L62.04,409.57 L63.10,409.47 L64.16,409.38 L65.21,409.29 L66.27,409.23 L67.32,409.18 L68.38,409.15 L69.43,409.11 L70.49,409.08 L71.55,409.06 L72.60,409.04 L73.66,409.04 L73.66,409.04 L73.82,299.01 L73.83,298.99 L73.85,298.95 L73.89,298.89 L73.95,298.80 L74.02,298.68 L74.11,298.54 L74.21,298.38 L74.33,298.19 L74.46,297.98 L74.62,297.76 L74.78,297.51 L74.96,297.25 L75.16,296.98 L75.38,296.70 L75.61,296.42 L75.85,296.14 L76.12,295.88 L76.39,295.63 L76.69,295.42 L77.00,295.22 L77.32,295.03 L77.67,294.85 L78.02,294.68 L78.40,294.51 L78.78,294.35 L79.19,294.20 L79.61,294.05 L80.05,293.90 L80.50,293.75 L80.97,293.59 L81.45,293.43 L81.95,293.27 L82.47,293.11 L83.00,292.95 L83.55,292.80 L84.11,292.64 L84.69,292.50 L85.29,292.36 L85.90,292.23 L86.53,292.11 L87.17,292.01 L87.83,291.93 L88.51,291.85 L89.20,291.77 L89.90,291.70 L90.63,291.62 L91.37,291.55 L92.12,291.48 L92.89,291.41 L93.68,291.35 L94.48,291.29 L95.30,291.24 L96.13,291.19 L96.98,291.15 L97.85,291.12 L98.73,291.10 L99.62,291.09 L100.54,291.09 L101.47,291.09 L102.41,291.11 L103.37,291.12 L104.35,291.15 L105.34,291.18 L106.35,291.23 L107.38,291.28 L108.42,291.34 L109.47,291.42 L110.55,291.51 L111.63,291.61 L111.63,291.61 L111.67,337.93 L111.68,338.42 L111.70,338.94 L111.72,339.48 L111.75,340.04 L111.77,340.63 L111.79,341.24 L111.82,341.88 L111.84,342.54 L111.87,343.23 L111.90,343.94 L111.93,344.67 L111.97,345.42 L112.00,346.19 L112.04,346.97 L112.08,347.76 L112.12,348.55 L112.16,349.34 L112.21,350.11 L112.26,350.86 L112.31,351.57 L112.37,352.23 L112.42,352.82 L112.48,353.31 L112.55,353.79 L112.61,354.25 L112.65,354.50 L112.69,354.70 L112.76,355.12 L112.84,355.52 L112.92,355.88 L113.01,356.19 L113.11,356.45 L113.20,356.68 L113.31,356.91 L113.42,357.14 L113.53,357.38 L113.64,357.59 L113.66,357.62 L113.79,357.87 L113.92,358.11 L114.07,358.36 L114.22,358.61 L114.38,358.86 L114.55,359.11 L114.63,359.21 L114.73,359.35 L114.92,359.59 L115.12,359.83 L115.33,360.06 L115.55,360.29 L115.61,360.35 L115.79,360.51 L116.04,360.73 L116.30,360.94 L116.57,361.14 L116.60,361.16 L116.87,361.35 L117.18,361.55 L117.50,361.76 L117.58,361.81 L117.84,361.97 L118.21,362.19 L118.57,362.40 L118.59,362.41 L119.00,362.64 L119.42,362.86 L119.56,362.93 L119.87,363.09 L120.35,363.31 L120.54,363.40 L120.85,363.54 L121.38,363.77 L121.53,363.83 L121.94,363.99 L122.52,364.20 L122.53,364.21 L123.16,364.42 L123.50,364.53 L123.82,364.62 L124.49,364.81 L124.52,364.82 L125.25,365.00 L125.48,365.06 L126.03,365.18 L126.46,365.27 L126.85,365.34 L127.45,365.46 L127.71,365.50 L128.43,365.63 L128.62,365.66 L129.42,365.79 L129.59,365.82 L130.41,365.95 L130.61,365.97 L131.39,366.09 L131.68,366.12 L132.38,366.22 L132.82,366.27 L133.37,366.34 L134.01,366.41 L134.35,366.45 L135.28,366.55 L135.34,366.56 L136.33,366.66 L136.61,366.69 L137.31,366.76 L138.02,366.83 L138.30,366.86 L139.29,366.95 L139.51,366.97 L140.27,367.04 L141.08,367.11 L141.26,367.13 L142.24,367.22 L142.74,367.26 L143.23,367.31 L144.22,367.39 L144.49,367.42 L145.20,367.48 L146.19,367.56 L146.34,367.57 L147.18,367.64 L148.16,367.72 L148.30,367.73 L149.15,367.80 L150.14,367.88 L150.36,367.90 L151.12,367.96 L152.11,368.03 L152.53,368.07 L153.09,368.11 L154.08,368.18 L154.83,368.24 L155.07,368.25 L156.05,368.32 L157.04,368.39 L157.26,368.41 L158.03,368.46 L159.01,368.52 L159.82,368.58 L160.00,368.59 L160.99,368.65 L161.97,368.71 L162.52,368.75 L162.96,368.77 L163.95,368.83 L164.93,368.89 L165.38,368.91 L165.92,368.94 L166.90,369.00 L167.89,369.05 L168.39,369.08 L168.88,369.10 L169.86,369.15 L170.85,369.20 L171.57,369.24 L171.84,369.25 L172.82,369.29 L173.81,369.34 L174.80,369.38 L174.93,369.39 L175.78,369.42 L176.77,369.46 L177.75,369.50 L178.48,369.53 L178.74,369.54 L179.73,369.57 L180.71,369.61 L181.70,369.64 L182.23,369.66 L182.69,369.68 L183.67,369.71 L184.66,369.74 L185.65,369.77 L186.18,369.79 L186.63,369.80 L187.62,369.83 L188.61,369.86 L189.59,369.89 L190.36,369.91 L190.58,369.92 L191.56,369.94 L192.55,369.97 L193.54,370.00 L194.52,370.02 L194.76,370.03 L195.51,370.05 L196.50,370.07 L197.48,370.10 L198.47,370.12 L199.42,370.15 L199.46,370.15 L200.44,370.17 L201.43,370.19 L202.41,370.22 L203.40,370.24 L204.33,370.26 L204.39,370.26 L205.37,370.29 L206.36,370.31 L207.35,370.33 L208.33,370.35 L209.32,370.37 L209.52,370.38 L210.31,370.39 L211.29,370.41 L212.28,370.43 L213.27,370.45 L214.25,370.47 L214.99,370.48 L215.24,370.49 L216.22,370.51 L217.21,370.52 L218.20,370.54 L219.18,370.56 L220.17,370.58 L220.77,370.59 L221.16,370.59 L222.14,370.61 L223.13,370.63 L224.12,370.64 L225.10,370.66 L226.09,370.68 L226.88,370.69 L227.07,370.70 L228.06,370.71 L229.05,370.73 L230.03,370.75 L231.02,370.77 L232.01,370.79 L232.99,370.81 L233.32,370.81 L233.98,370.83 L234.97,370.84 L235.95,370.87 L236.94,370.89 L237.93,370.91 L238.91,370.93 L239.90,370.95 L240.13,370.96 L240.88,370.98 L241.87,371.00 L242.86,371.03 L243.84,371.05 L244.83,371.08 L245.82,371.10 L246.80,371.13 L247.31,371.15 L247.79,371.16 L248.78,371.19 L249.76,371.22 L250.75,371.25 L251.73,371.28 L252.72,371.31 L253.71,371.34 L254.69,371.37 L254.89,371.38 L255.68,371.40 L256.67,371.43 L257.65,371.47 L258.64,371.50 L259.63,371.53 L260.61,371.56 L261.60,371.60 L262.59,371.63 L262.90,371.64 L263.57,371.66 L264.56,371.70 L265.54,371.73 L266.53,371.76 L267.52,371.80 L268.50,371.83 L269.49,371.86 L270.48,371.89 L271.35,371.92 L271.46,371.93 L272.45,371.96 L273.44,371.99 L274.42,372.02 L275.41,372.05 L276.39,372.09 L277.38,372.12 L278.37,372.15 L279.35,372.18 L280.28,372.20 L280.34,372.21 L281.33,372.23 L282.31,372.26 L283.30,372.29 L284.29,372.32 L285.27,372.34 L286.26,372.36 L287.25,372.38 L288.23,372.40 L289.22,372.42 L289.70,372.43 L290.20,372.43 L291.19,372.45 L292.18,372.46 L293.16,372.48 L294.15,372.49 L295.14,372.50 L296.12,372.52 L297.11,372.53 L298.10,372.55 L299.08,372.57 L299.65,372.58 L300.07,372.59 L301.05,372.61 L302.04,372.64 L303.03,372.66 L304.01,372.70 L305.00,372.73 L305.99,372.77 L306.97,372.81 L307.96,372.86 L308.95,372.91 L309.93,372.97 L310.15,372.99 L310.92,373.26 L311.91,374.04 L312.89,375.07 L313.88,376.12 L314.86,376.96 L315.85,377.35 L316.84,377.16 L317.82,376.67 L318.81,376.30 L319.80,376.07 L320.78,375.90 L321.24,375.84" fill="none" stroke="#ff2a2a" stroke-width="1.15" stroke-linejoin="round"/>
<path d="M53.60,410.05 L54.66,410.00 L55.71,409.96 L56.77,409.90 L57.82,409.85 L58.88,409.79 L59.93,409.73 L60.99,409.65 L62.04,409.57 L63.10,409.47 L64.16,409.38 L65.21,409.29 L66.27,409.23 L67.32,409.18 L68.38,409.15 L69.43,409.11 L70.49,409.08 L71.55,409.06 L72.60,409.04 L73.66,409.04 L73.66,409.04 L73.82,299.01 L73.83,298.96 L73.85,298.81 L73.89,298.58 L73.95,298.24 L74.02,297.81 L74.10,297.29 L74.21,296.68 L74.33,295.98 L74.46,295.19 L74.61,294.34 L74.77,293.43 L74.95,292.47 L75.15,291.50 L75.36,290.53 L75.59,289.60 L75.84,288.75 L76.10,288.02 L76.37,287.31 L76.66,286.62 L76.97,285.94 L77.29,285.29 L77.63,284.66 L77.99,284.05 L78.36,283.46 L78.74,282.89 L79.14,282.33 L79.56,281.77 L79.99,281.20 L80.44,280.62 L80.91,280.05 L81.39,279.48 L81.88,278.92 L82.39,278.38 L82.92,277.84 L83.47,277.33 L84.02,276.83 L84.60,276.35 L85.19,275.90 L85.80,275.46 L86.42,275.03 L87.06,274.59 L87.71,274.17 L88.38,273.76 L89.06,273.37 L89.76,273.00 L90.48,272.66 L91.21,272.35 L91.96,272.08 L92.72,271.85 L93.50,271.63 L94.30,271.43 L95.11,271.23 L95.94,271.05 L96.78,270.89 L97.64,270.73 L98.51,270.58 L99.40,270.44 L100.31,270.31 L101.23,270.18 L102.16,270.05 L103.12,269.93 L104.08,269.80 L105.07,269.68 L106.07,269.57 L107.08,269.47 L108.12,269.38 L109.16,269.29 L110.23,269.23 L111.30,269.18 L111.30,269.18 L111.34,300.86 L111.36,301.60 L111.37,302.38 L111.40,303.20 L111.42,304.06 L111.44,304.96 L111.46,305.91 L111.49,306.90 L111.52,307.93 L111.54,309.00 L111.57,310.12 L111.61,311.27 L111.64,312.46 L111.67,313.68 L111.71,314.93 L111.75,316.18 L111.79,317.45 L111.84,318.70 L111.88,319.93 L111.93,321.11 L111.98,322.22 L112.04,323.22 L112.09,324.07 L112.15,324.75 L112.22,325.38 L112.29,325.99 L112.32,326.31 L112.36,326.58 L112.43,327.15 L112.51,327.70 L112.60,328.21 L112.68,328.71 L112.78,329.19 L112.88,329.65 L112.98,330.12 L113.09,330.59 L113.21,331.09 L113.31,331.53 L113.33,331.61 L113.46,332.14 L113.60,332.70 L113.74,333.27 L113.89,333.86 L114.05,334.47 L114.22,335.09 L114.30,335.35 L114.40,335.73 L114.59,336.38 L114.79,337.04 L115.00,337.71 L115.23,338.38 L115.28,338.55 L115.46,339.06 L115.71,339.73 L115.97,340.39 L116.25,341.04 L116.27,341.09 L116.54,341.67 L116.85,342.27 L117.18,342.83 L117.26,342.96 L117.52,343.35 L117.88,343.86 L118.24,344.34 L118.27,344.38 L118.67,344.90 L119.10,345.42 L119.23,345.58 L119.55,345.95 L120.03,346.48 L120.21,346.68 L120.53,347.00 L121.06,347.52 L121.20,347.65 L121.62,348.03 L122.19,348.51 L122.22,348.53 L122.84,349.02 L123.17,349.27 L123.50,349.49 L124.16,349.93 L124.20,349.95 L124.93,350.39 L125.15,350.51 L125.71,350.80 L126.13,351.01 L126.53,351.20 L127.12,351.46 L127.40,351.58 L128.11,351.88 L128.31,351.96 L129.09,352.26 L129.28,352.33 L130.08,352.61 L130.30,352.68 L131.07,352.94 L131.37,353.03 L132.05,353.24 L132.51,353.38 L133.04,353.53 L133.71,353.71 L134.02,353.79 L134.97,354.04 L135.01,354.05 L136.00,354.30 L136.31,354.37 L136.98,354.54 L137.72,354.72 L137.97,354.78 L138.96,355.01 L139.21,355.08 L139.94,355.26 L140.79,355.47 L140.93,355.50 L141.92,355.75 L142.45,355.88 L142.90,356.00 L143.89,356.23 L144.20,356.31 L144.87,356.47 L145.86,356.70 L146.05,356.74 L146.85,356.92 L147.83,357.14 L148.01,357.18 L148.82,357.36 L149.81,357.58 L150.07,357.63 L150.79,357.79 L151.78,357.99 L152.25,358.09 L152.77,358.20 L153.75,358.40 L154.55,358.56 L154.74,358.60 L155.73,358.79 L156.71,358.99 L156.98,359.04 L157.70,359.18 L158.68,359.37 L159.55,359.53 L159.67,359.56 L160.66,359.74 L161.64,359.93 L162.26,360.05 L162.63,360.12 L163.62,360.30 L164.60,360.49 L165.12,360.58 L165.59,360.67 L166.58,360.85 L167.56,361.02 L168.13,361.12 L168.55,361.19 L169.53,361.36 L170.52,361.52 L171.32,361.65 L171.51,361.68 L172.49,361.83 L173.48,361.98 L174.47,362.12 L174.69,362.15 L175.45,362.26 L176.44,362.39 L177.43,362.51 L178.24,362.61 L178.41,362.63 L179.40,362.75 L180.39,362.86 L181.37,362.97 L181.99,363.04 L182.36,363.08 L183.34,363.19 L184.33,363.29 L185.32,363.39 L185.95,363.46 L186.30,363.49 L187.29,363.59 L188.28,363.68 L189.26,363.78 L190.13,363.86 L190.25,363.87 L191.24,363.96 L192.22,364.05 L193.21,364.14 L194.19,364.23 L194.55,364.26 L195.18,364.32 L196.17,364.41 L197.15,364.49 L198.14,364.58 L199.13,364.67 L199.21,364.68 L200.11,364.76 L201.10,364.85 L202.09,364.94 L203.07,365.03 L204.06,365.12 L204.13,365.13 L205.05,365.21 L206.03,365.31 L207.02,365.40 L208.00,365.50 L208.99,365.59 L209.32,365.63 L209.98,365.69 L210.96,365.79 L211.95,365.88 L212.94,365.98 L213.92,366.08 L214.81,366.16 L214.91,366.17 L215.90,366.27 L216.88,366.36 L217.87,366.46 L218.85,366.56 L219.84,366.65 L220.60,366.72 L220.83,366.75 L221.81,366.84 L222.80,366.94 L223.79,367.03 L224.77,367.12 L225.76,367.21 L226.71,367.30 L226.75,367.30 L227.73,367.40 L228.72,367.48 L229.71,367.57 L230.69,367.66 L231.68,367.75 L232.66,367.83 L233.17,367.88 L233.65,367.92 L234.64,368.00 L235.62,368.08 L236.61,368.16 L237.60,368.24 L238.58,368.32 L239.57,368.39 L239.98,368.42 L240.56,368.47 L241.54,368.54 L242.53,368.61 L243.51,368.69 L244.50,368.76 L245.49,368.83 L246.47,368.90 L247.18,368.95 L247.46,368.97 L248.45,369.04 L249.43,369.11 L250.42,369.17 L251.41,369.24 L252.39,369.31 L253.38,369.38 L254.37,369.44 L254.78,369.47 L255.35,369.51 L256.34,369.57 L257.32,369.64 L258.31,369.70 L259.30,369.76 L260.28,369.83 L261.27,369.89 L262.26,369.95 L262.80,369.99 L263.24,370.01 L264.23,370.08 L265.22,370.14 L266.20,370.20 L267.19,370.26 L268.17,370.32 L269.16,370.38 L270.15,370.44 L271.13,370.50 L271.26,370.50 L272.12,370.55 L273.11,370.61 L274.09,370.67 L275.08,370.73 L276.07,370.79 L277.05,370.84 L278.04,370.90 L279.03,370.96 L280.01,371.01 L280.21,371.02 L281.00,371.07 L281.98,371.13 L282.97,371.18 L283.96,371.24 L284.94,371.29 L285.93,371.35 L286.92,371.40 L287.90,371.46 L288.89,371.51 L289.65,371.56 L289.88,371.57 L290.86,371.62 L291.85,371.68 L292.83,371.73 L293.82,371.79 L294.81,371.84 L295.79,371.89 L296.78,371.95 L297.77,372.00 L298.75,372.06 L299.61,372.10 L299.74,372.11 L300.73,372.16 L301.71,372.21 L302.70,372.24 L303.69,372.28 L304.67,372.31 L305.66,372.35 L306.64,372.39 L307.63,372.45 L308.62,372.51 L309.60,372.60 L310.13,372.65 L310.59,372.79 L311.58,373.49 L312.56,374.54 L313.55,375.68 L314.54,376.68 L315.52,377.28 L316.51,377.28 L317.49,376.84 L318.48,376.39 L319.47,376.14 L320.45,375.95 L321.24,375.84 L321.24,375.84" fill="none" stroke="#2e9a35" stroke-width="1.15" stroke-linejoin="round"/>
<path d="M53.60,410.05 L54.66,410.00 L55.71,409.96 L56.77,409.90 L57.82,409.85 L58.88,409.79 L59.93,409.73 L60.99,409.65 L62.04,409.57 L63.10,409.47 L64.16,409.38 L65.21,409.29 L66.27,409.23 L67.32,409.18 L68.38,409.15 L69.43,409.11 L70.49,409.08 L71.55,409.06 L72.60,409.04 L73.66,409.04 L73.66,409.04 L73.82,297.66 L73.83,297.62 L73.85,297.50 L73.89,297.30 L73.95,297.02 L74.02,296.67 L74.11,296.23 L74.22,295.72 L74.34,295.14 L74.48,294.49 L74.63,293.79 L74.80,293.03 L74.98,292.25 L75.19,291.45 L75.40,290.65 L75.64,289.90 L75.89,289.22 L76.16,288.63 L76.44,288.03 L76.74,287.43 L77.05,286.82 L77.38,286.24 L77.73,285.67 L78.10,285.12 L78.48,284.62 L78.87,284.16 L79.28,283.77 L79.71,283.45 L80.16,283.20 L80.62,282.97 L81.09,282.73 L81.59,282.50 L82.10,282.28 L82.62,282.06 L83.16,281.86 L83.72,281.67 L84.29,281.50 L84.88,281.34 L85.49,281.21 L86.11,281.10 L86.75,281.03 L87.40,280.98 L88.07,280.98 L88.76,280.98 L89.46,280.98 L90.18,280.98 L90.92,280.98 L91.67,280.98 L92.44,280.98 L93.22,280.98 L94.02,280.98 L94.84,280.98 L95.67,280.98 L96.52,280.98 L97.38,281.00 L98.26,281.05 L99.16,281.12 L100.07,281.21 L101.00,281.31 L101.95,281.42 L102.91,281.52 L103.89,281.62 L104.88,281.71 L105.89,281.79 L106.92,281.88 L107.96,281.97 L109.02,282.06 L110.09,282.15 L111.18,282.24 L112.29,282.34 L112.29,282.34 L112.32,341.30 L112.34,342.25 L112.36,343.24 L112.38,344.27 L112.40,345.33 L112.43,346.43 L112.45,347.57 L112.48,348.73 L112.50,349.92 L112.53,351.14 L112.56,352.37 L112.59,353.62 L112.63,354.87 L112.66,356.12 L112.70,357.34 L112.74,358.54 L112.78,359.68 L112.82,360.80 L112.87,361.94 L112.92,363.07 L112.97,364.15 L113.02,365.12 L113.08,365.91 L113.14,366.46 L113.20,366.96 L113.27,367.45 L113.31,367.72 L113.34,367.94 L113.42,368.42 L113.50,368.90 L113.58,369.36 L113.67,369.81 L113.76,370.25 L113.86,370.66 L113.96,371.07 L114.07,371.45 L114.19,371.82 L114.30,372.13 L114.31,372.18 L114.44,372.53 L114.58,372.87 L114.72,373.23 L114.87,373.60 L115.04,373.98 L115.20,374.36 L115.28,374.53 L115.38,374.74 L115.57,375.12 L115.77,375.49 L115.98,375.86 L116.20,376.22 L116.27,376.32 L116.44,376.57 L116.69,376.91 L116.95,377.23 L117.23,377.54 L117.26,377.57 L117.52,377.82 L117.82,378.10 L118.15,378.39 L118.24,378.47 L118.49,378.69 L118.86,378.99 L119.23,379.29 L119.24,379.30 L119.64,379.60 L120.07,379.91 L120.21,380.02 L120.52,380.22 L120.99,380.53 L121.20,380.67 L121.49,380.84 L122.02,381.15 L122.19,381.24 L122.58,381.45 L123.17,381.74 L123.17,381.74 L123.80,382.02 L124.16,382.18 L124.45,382.30 L125.15,382.56 L125.15,382.56 L125.88,382.80 L126.13,382.88 L126.66,383.03 L127.12,383.16 L127.47,383.26 L128.11,383.43 L128.34,383.49 L129.09,383.68 L129.25,383.71 L130.08,383.91 L130.21,383.93 L131.07,384.12 L131.23,384.15 L132.05,384.32 L132.30,384.37 L133.04,384.50 L133.43,384.57 L134.02,384.68 L134.62,384.78 L135.01,384.84 L135.89,384.97 L136.00,384.99 L136.98,385.13 L137.22,385.17 L137.97,385.27 L138.62,385.35 L138.96,385.40 L139.94,385.52 L140.11,385.54 L140.93,385.64 L141.68,385.73 L141.92,385.75 L142.90,385.86 L143.33,385.91 L143.89,385.97 L144.87,386.07 L145.08,386.09 L145.86,386.17 L146.85,386.27 L146.92,386.27 L147.83,386.36 L148.82,386.45 L148.87,386.45 L149.81,386.54 L150.79,386.62 L150.92,386.63 L151.78,386.70 L152.77,386.78 L153.09,386.81 L153.75,386.86 L154.74,386.93 L155.39,386.98 L155.73,387.01 L156.71,387.08 L157.70,387.15 L157.80,387.16 L158.68,387.22 L159.67,387.29 L160.36,387.33 L160.66,387.35 L161.64,387.42 L162.63,387.49 L163.06,387.52 L163.62,387.56 L164.60,387.62 L165.59,387.69 L165.90,387.71 L166.58,387.76 L167.56,387.83 L168.55,387.89 L168.91,387.92 L169.53,387.96 L170.52,388.03 L171.51,388.11 L172.08,388.15 L172.49,388.18 L173.48,388.26 L174.47,388.33 L175.43,388.41 L175.45,388.41 L176.44,388.50 L177.43,388.58 L178.41,388.67 L178.97,388.72 L179.40,388.75 L180.39,388.84 L181.37,388.93 L182.36,389.02 L182.70,389.05 L183.34,389.11 L184.33,389.21 L185.32,389.30 L186.30,389.39 L186.64,389.42 L187.29,389.48 L188.28,389.58 L189.26,389.67 L190.25,389.76 L190.80,389.82 L191.24,389.86 L192.22,389.95 L193.21,390.04 L194.19,390.13 L195.18,390.22 L195.20,390.22 L196.17,390.30 L197.15,390.39 L198.14,390.47 L199.13,390.55 L199.83,390.61 L200.11,390.63 L201.10,390.71 L202.09,390.79 L203.07,390.86 L204.06,390.93 L204.73,390.98 L205.05,391.00 L206.03,391.06 L207.02,391.13 L208.00,391.19 L208.99,391.25 L209.90,391.31 L209.98,391.32 L210.96,391.38 L211.95,391.44 L212.94,391.50 L213.92,391.55 L214.91,391.61 L215.36,391.64 L215.90,391.67 L216.88,391.72 L217.87,391.78 L218.85,391.83 L219.84,391.89 L220.83,391.94 L221.12,391.96 L221.81,391.99 L222.80,392.04 L223.79,392.09 L224.77,392.14 L225.76,392.19 L226.75,392.24 L227.21,392.27 L227.73,392.29 L228.72,392.34 L229.71,392.39 L230.69,392.44 L231.68,392.48 L232.66,392.53 L233.63,392.57 L233.65,392.57 L234.64,392.62 L235.62,392.66 L236.61,392.71 L237.60,392.75 L238.58,392.80 L239.57,392.84 L240.41,392.88 L240.56,392.88 L241.54,392.93 L242.53,392.97 L243.51,393.01 L244.50,393.05 L245.49,393.08 L246.47,393.12 L247.46,393.16 L247.57,393.16 L248.45,393.19 L249.43,393.23 L250.42,393.26 L251.41,393.29 L252.39,393.32 L253.38,393.36 L254.37,393.39 L255.13,393.41 L255.35,393.42 L256.34,393.45 L257.32,393.48 L258.31,393.51 L259.30,393.53 L260.28,393.56 L261.27,393.59 L262.26,393.62 L263.11,393.64 L263.24,393.65 L264.23,393.68 L265.22,393.70 L266.20,393.73 L267.19,393.76 L268.17,393.79 L269.16,393.82 L270.15,393.84 L271.13,393.87 L271.53,393.88 L272.12,393.90 L273.11,393.93 L274.09,393.96 L275.08,393.99 L276.07,394.02 L277.05,394.05 L278.04,394.08 L279.03,394.12 L280.01,394.15 L280.42,394.16 L281.00,394.18 L281.98,394.22 L282.97,394.25 L283.96,394.29 L284.94,394.33 L285.93,394.36 L286.92,394.40 L287.90,394.44 L288.89,394.48 L289.81,394.52 L289.88,394.53 L290.86,394.57 L291.85,394.61 L292.83,394.66 L293.82,394.71 L294.81,394.76 L295.79,394.81 L296.78,394.86 L297.77,394.91 L298.75,394.97 L299.73,395.02 L299.74,395.02 L300.73,395.08 L301.71,395.14 L302.70,395.19 L303.69,395.25 L304.67,395.31 L305.66,395.38 L306.64,395.47 L307.63,395.58 L308.62,395.70 L309.60,395.86 L310.19,395.96 L310.59,396.04 L311.58,396.76 L312.56,398.45 L313.55,400.43 L314.54,401.99 L315.52,402.45 L316.51,402.05 L317.49,401.39 L318.48,400.87 L319.47,400.49 L320.45,400.16 L321.24,399.94 L321.24,399.94" fill="none" stroke="#1f2cff" stroke-width="1.15" stroke-linejoin="round"/>
<path d="M53.60,410.05 L54.66,410.00 L55.71,409.96 L56.77,409.90 L57.82,409.85 L58.88,409.79 L59.93,409.73 L60.99,409.65 L62.04,409.57 L63.10,409.47 L64.16,409.38 L65.21,409.29 L66.27,409.23 L67.32,409.18 L68.38,409.15 L69.43,409.11 L70.49,409.08 L71.55,409.06 L72.60,409.04 L73.66,409.04 L73.66,409.04 L73.99,296.14 L73.99,296.13 L74.02,296.10 L74.06,296.05 L74.11,295.98 L74.19,295.89 L74.28,295.78 L74.38,295.65 L74.50,295.50 L74.64,295.34 L74.79,295.16 L74.96,294.96 L75.14,294.76 L75.35,294.54 L75.56,294.32 L75.80,294.10 L76.05,293.87 L76.31,293.66 L76.59,293.46 L76.89,293.28 L77.20,293.09 L77.53,292.92 L77.88,292.74 L78.24,292.58 L78.62,292.42 L79.01,292.26 L79.42,292.10 L79.85,291.95 L80.29,291.79 L80.75,291.62 L81.23,291.45 L81.72,291.28 L82.22,291.10 L82.75,290.93 L83.29,290.75 L83.84,290.58 L84.41,290.41 L85.00,290.25 L85.60,290.11 L86.22,289.97 L86.86,289.86 L87.51,289.77 L88.18,289.70 L88.86,289.64 L89.56,289.58 L90.28,289.51 L91.01,289.45 L91.76,289.40 L92.52,289.34 L93.30,289.29 L94.10,289.24 L94.91,289.20 L95.74,289.16 L96.59,289.13 L97.45,289.10 L98.32,289.08 L99.22,289.07 L100.13,289.07 L101.05,289.07 L101.99,289.08 L102.95,289.11 L103.92,289.14 L104.91,289.18 L105.92,289.23 L106.94,289.29 L107.98,289.36 L109.03,289.44 L110.10,289.53 L111.19,289.64 L112.29,289.76 L112.29,289.76 L112.32,337.93 L112.34,338.99 L112.36,340.10 L112.38,341.24 L112.40,342.43 L112.43,343.65 L112.45,344.91 L112.48,346.20 L112.50,347.52 L112.53,348.86 L112.56,350.21 L112.59,351.57 L112.63,352.93 L112.66,354.27 L112.70,355.57 L112.74,356.82 L112.78,358.00 L112.82,359.12 L112.87,360.25 L112.92,361.37 L112.97,362.42 L113.02,363.36 L113.08,364.09 L113.14,364.57 L113.20,365.00 L113.27,365.43 L113.31,365.66 L113.34,365.85 L113.42,366.26 L113.50,366.65 L113.58,367.04 L113.67,367.42 L113.76,367.77 L113.86,368.12 L113.96,368.44 L114.07,368.75 L114.19,369.05 L114.30,369.30 L114.31,369.34 L114.44,369.62 L114.58,369.91 L114.72,370.21 L114.87,370.53 L115.04,370.86 L115.20,371.19 L115.28,371.34 L115.38,371.53 L115.57,371.87 L115.77,372.20 L115.98,372.53 L116.20,372.85 L116.27,372.94 L116.44,373.17 L116.69,373.47 L116.95,373.75 L117.23,374.02 L117.26,374.05 L117.52,374.26 L117.82,374.50 L118.15,374.75 L118.24,374.82 L118.49,374.99 L118.86,375.24 L119.23,375.49 L119.24,375.50 L119.64,375.75 L120.07,376.00 L120.21,376.08 L120.52,376.25 L120.99,376.50 L121.20,376.60 L121.49,376.74 L122.02,376.99 L122.19,377.06 L122.58,377.23 L123.17,377.47 L123.17,377.47 L123.80,377.71 L124.16,377.84 L124.45,377.94 L125.15,378.18 L125.15,378.18 L125.88,378.42 L126.13,378.50 L126.66,378.66 L127.12,378.80 L127.47,378.91 L128.11,379.10 L128.34,379.17 L129.09,379.38 L129.25,379.43 L130.08,379.65 L130.21,379.69 L131.07,379.91 L131.23,379.95 L132.05,380.16 L132.30,380.22 L133.04,380.39 L133.43,380.48 L134.02,380.62 L134.62,380.74 L135.01,380.82 L135.89,380.99 L136.00,381.02 L136.98,381.19 L137.22,381.23 L137.97,381.36 L138.62,381.46 L138.96,381.51 L139.94,381.64 L140.11,381.66 L140.93,381.76 L141.68,381.85 L141.92,381.87 L142.90,381.98 L143.33,382.03 L143.89,382.08 L144.87,382.18 L145.08,382.20 L145.86,382.28 L146.85,382.37 L146.92,382.38 L147.83,382.46 L148.82,382.54 L148.87,382.55 L149.81,382.62 L150.79,382.70 L150.92,382.71 L151.78,382.78 L152.77,382.85 L153.09,382.88 L153.75,382.92 L154.74,382.99 L155.39,383.04 L155.73,383.06 L156.71,383.12 L157.70,383.19 L157.80,383.19 L158.68,383.25 L159.67,383.31 L160.36,383.35 L160.66,383.37 L161.64,383.42 L162.63,383.48 L163.06,383.51 L163.62,383.54 L164.60,383.59 L165.59,383.65 L165.90,383.67 L166.58,383.70 L167.56,383.76 L168.55,383.81 L168.91,383.83 L169.53,383.87 L170.52,383.92 L171.51,383.98 L172.08,384.01 L172.49,384.04 L173.48,384.10 L174.47,384.16 L175.43,384.22 L175.45,384.22 L176.44,384.28 L177.43,384.34 L178.41,384.41 L178.97,384.45 L179.40,384.48 L180.39,384.54 L181.37,384.61 L182.36,384.68 L182.70,384.70 L183.34,384.75 L184.33,384.82 L185.32,384.89 L186.30,384.96 L186.64,384.98 L187.29,385.02 L188.28,385.09 L189.26,385.16 L190.25,385.23 L190.80,385.26 L191.24,385.29 L192.22,385.35 L193.21,385.41 L194.19,385.47 L195.18,385.53 L195.20,385.53 L196.17,385.59 L197.15,385.64 L198.14,385.69 L199.13,385.74 L199.83,385.77 L200.11,385.78 L201.10,385.82 L202.09,385.86 L203.07,385.89 L204.06,385.92 L204.73,385.94 L205.05,385.95 L206.03,385.97 L207.02,385.99 L208.00,386.01 L208.99,386.03 L209.90,386.05 L209.98,386.05 L210.96,386.07 L211.95,386.09 L212.94,386.10 L213.92,386.12 L214.91,386.13 L215.36,386.14 L215.90,386.15 L216.88,386.16 L217.87,386.17 L218.85,386.19 L219.84,386.20 L220.83,386.21 L221.12,386.21 L221.81,386.22 L222.80,386.23 L223.79,386.24 L224.77,386.25 L225.76,386.27 L226.75,386.28 L227.21,386.28 L227.73,386.29 L228.72,386.30 L229.71,386.31 L230.69,386.32 L231.68,386.33 L232.66,386.35 L233.63,386.36 L233.65,386.36 L234.64,386.37 L235.62,386.39 L236.61,386.40 L237.60,386.42 L238.58,386.43 L239.57,386.45 L240.41,386.46 L240.56,386.47 L241.54,386.49 L242.53,386.50 L243.51,386.52 L244.50,386.54 L245.49,386.56 L246.47,386.58 L247.46,386.60 L247.57,386.60 L248.45,386.61 L249.43,386.63 L250.42,386.65 L251.41,386.67 L252.39,386.69 L253.38,386.71 L254.37,386.73 L255.13,386.75 L255.35,386.75 L256.34,386.77 L257.32,386.79 L258.31,386.81 L259.30,386.83 L260.28,386.85 L261.27,386.87 L262.26,386.90 L263.11,386.91 L263.24,386.92 L264.23,386.94 L265.22,386.96 L266.20,386.98 L267.19,387.01 L268.17,387.03 L269.16,387.05 L270.15,387.08 L271.13,387.10 L271.53,387.11 L272.12,387.13 L273.11,387.15 L274.09,387.18 L275.08,387.20 L276.07,387.23 L277.05,387.25 L278.04,387.28 L279.03,387.31 L280.01,387.33 L280.42,387.34 L281.00,387.36 L281.98,387.39 L282.97,387.42 L283.96,387.44 L284.94,387.47 L285.93,387.50 L286.92,387.53 L287.90,387.56 L288.89,387.59 L289.81,387.62 L289.88,387.62 L290.86,387.66 L291.85,387.69 L292.83,387.72 L293.82,387.75 L294.81,387.79 L295.79,387.82 L296.78,387.85 L297.77,387.89 L298.75,387.92 L299.73,387.96 L299.74,387.96 L300.73,387.99 L301.71,388.02 L302.70,388.05 L303.69,388.08 L304.67,388.10 L305.66,388.13 L306.64,388.16 L307.63,388.20 L308.62,388.25 L309.60,388.31 L310.19,388.35 L310.59,388.38 L311.58,388.46 L312.56,388.56 L313.55,388.72 L314.54,390.05 L315.52,391.60 L316.51,391.77 L317.49,391.33 L318.48,390.88 L319.47,390.63 L320.45,390.44 L321.24,390.33 L321.24,390.33" fill="none" stroke="#ff1fff" stroke-width="1.15" stroke-linejoin="round"/>
<g stroke="#2b2b2b" stroke-width="1.1" fill="none">
<line x1="406.30" y1="256.22" x2="406.30" y2="425.04"/>
<line x1="403.30" y1="424.54" x2="700.33" y2="424.54"/>
<line x1="403.30" y1="424.54" x2="409.30" y2="424.54"/>
<line x1="405.10" y1="414.02" x2="407.50" y2="414.02"/>
<line x1="403.30" y1="403.50" x2="409.30" y2="403.50"/>
<line x1="405.10" y1="392.98" x2="407.50" y2="392.98"/>
<line x1="403.30" y1="382.46" x2="409.30" y2="382.46"/>
<line x1="405.10" y1="371.94" x2="407.50" y2="371.94"/>
<line x1="403.30" y1="361.42" x2="409.30" y2="361.42"/>
<line x1="405.10" y1="350.90" x2="407.50" y2="350.90"/>
<line x1="403.30" y1="340.38" x2="409.30" y2="340.38"/>
<line x1="405.10" y1="329.86" x2="407.50" y2="329.86"/>
<line x1="403.30" y1="319.34" x2="409.30" y2="319.34"/>
<line x1="405.10" y1="308.82" x2="407.50" y2="308.82"/>
<line x1="403.30" y1="298.30" x2="409.30" y2="298.30"/>
<line x1="405.10" y1="287.78" x2="407.50" y2="287.78"/>
<line x1="403.30" y1="277.26" x2="409.30" y2="277.26"/>
<line x1="405.10" y1="266.74" x2="407.50" y2="266.74"/>
<line x1="403.30" y1="256.22" x2="409.30" y2="256.22"/>
<line x1="406.30" y1="421.54" x2="406.30" y2="427.54"/>
<line x1="422.63" y1="423.34" x2="422.63" y2="425.74"/>
<line x1="438.97" y1="421.54" x2="438.97" y2="427.54"/>
<line x1="455.31" y1="423.34" x2="455.31" y2="425.74"/>
<line x1="471.64" y1="421.54" x2="471.64" y2="427.54"/>
<line x1="487.98" y1="423.34" x2="487.98" y2="425.74"/>
<line x1="504.31" y1="421.54" x2="504.31" y2="427.54"/>
<line x1="520.64" y1="423.34" x2="520.64" y2="425.74"/>
<line x1="536.98" y1="421.54" x2="536.98" y2="427.54"/>
<line x1="553.32" y1="423.34" x2="553.32" y2="425.74"/>
<line x1="569.65" y1="421.54" x2="569.65" y2="427.54"/>
<line x1="585.99" y1="423.34" x2="585.99" y2="425.74"/>
<line x1="602.32" y1="421.54" x2="602.32" y2="427.54"/>
<line x1="618.65" y1="423.34" x2="618.65" y2="425.74"/>
<line x1="634.99" y1="421.54" x2="634.99" y2="427.54"/>
<line x1="651.33" y1="423.34" x2="651.33" y2="425.74"/>
<line x1="667.66" y1="421.54" x2="667.66" y2="427.54"/>
<line x1="684.00" y1="423.34" x2="684.00" y2="425.74"/>
<line x1="700.33" y1="421.54" x2="700.33" y2="427.54"/>
</g>
<text x="399.10" y="427.64" font-size="8.8" font-weight="normal" text-anchor="end" fill="#1a1a1a" >-100</text>
<text x="399.10" y="406.60" font-size="8.8" font-weight="normal" text-anchor="end" fill="#1a1a1a" >0</text>
<text x="399.10" y="385.56" font-size="8.8" font-weight="normal" text-anchor="end" fill="#1a1a1a" >100</text>
<text x="399.10" y="364.52" font-size="8.8" font-weight="normal" text-anchor="end" fill="#1a1a1a" >200</text>
<text x="399.10" y="343.48" font-size="8.8" font-weight="normal" text-anchor="end" fill="#1a1a1a" >300</text>
<text x="399.10" y="322.44" font-size="8.8" font-weight="normal" text-anchor="end" fill="#1a1a1a" >400</text>
<text x="399.10" y="301.40" font-size="8.8" font-weight="normal" text-anchor="end" fill="#1a1a1a" >500</text>
<text x="399.10" y="280.36" font-size="8.8" font-weight="normal" text-anchor="end" fill="#1a1a1a" >600</text>
<text x="399.10" y="259.32" font-size="8.8" font-weight="normal" text-anchor="end" fill="#1a1a1a" >700</text>
<text x="406.30" y="439.14" font-size="8.8" font-weight="normal" text-anchor="middle" fill="#1a1a1a" >0</text>
<text x="438.97" y="439.14" font-size="8.8" font-weight="normal" text-anchor="middle" fill="#1a1a1a" >100</text>
<text x="471.64" y="439.14" font-size="8.8" font-weight="normal" text-anchor="middle" fill="#1a1a1a" >200</text>
<text x="504.31" y="439.14" font-size="8.8" font-weight="normal" text-anchor="middle" fill="#1a1a1a" >300</text>
<text x="536.98" y="439.14" font-size="8.8" font-weight="normal" text-anchor="middle" fill="#1a1a1a" >400</text>
<text x="569.65" y="439.14" font-size="8.8" font-weight="normal" text-anchor="middle" fill="#1a1a1a" >500</text>
<text x="602.32" y="439.14" font-size="8.8" font-weight="normal" text-anchor="middle" fill="#1a1a1a" >600</text>
<text x="634.99" y="439.14" font-size="8.8" font-weight="normal" text-anchor="middle" fill="#1a1a1a" >700</text>
<text x="667.66" y="439.14" font-size="8.8" font-weight="normal" text-anchor="middle" fill="#1a1a1a" >800</text>
<text x="700.33" y="439.14" font-size="8.8" font-weight="normal" text-anchor="middle" fill="#1a1a1a" >900</text>
<path d="M406.30,404.76 L407.33,404.85 L408.36,404.91 L409.40,404.94 L410.43,404.96 L411.46,404.97 L412.49,404.97 L413.52,404.95 L414.55,404.86 L415.59,404.71 L416.62,404.53 L417.65,404.36 L418.68,404.20 L419.71,404.10 L420.74,404.02 L421.78,403.94 L422.81,403.87 L423.84,403.80 L424.87,403.75 L425.90,403.71 L425.90,403.71 L426.07,296.20 L426.07,296.18 L426.10,296.15 L426.14,296.09 L426.19,296.02 L426.27,295.92 L426.36,295.80 L426.46,295.66 L426.58,295.50 L426.72,295.32 L426.87,295.13 L427.04,294.93 L427.23,294.72 L427.43,294.50 L427.65,294.28 L427.88,294.08 L428.13,293.88 L428.40,293.67 L428.68,293.48 L428.98,293.28 L429.29,293.09 L429.62,292.90 L429.97,292.71 L430.33,292.53 L430.71,292.33 L431.10,292.12 L431.52,291.91 L431.94,291.70 L432.39,291.48 L432.85,291.26 L433.32,291.05 L433.81,290.84 L434.32,290.65 L434.85,290.47 L435.39,290.30 L435.94,290.17 L436.51,290.07 L437.10,289.98 L437.71,289.89 L438.33,289.81 L438.97,289.73 L439.62,289.65 L440.29,289.57 L440.97,289.50 L441.68,289.44 L442.39,289.37 L443.13,289.31 L443.88,289.25 L444.64,289.19 L445.42,289.14 L446.22,289.09 L447.04,289.03 L447.87,288.98 L448.71,288.93 L449.58,288.88 L450.46,288.83 L451.35,288.78 L452.26,288.72 L453.19,288.67 L454.13,288.62 L455.09,288.56 L456.07,288.51 L457.06,288.46 L458.07,288.42 L459.09,288.37 L460.13,288.33 L461.19,288.29 L462.26,288.25 L463.35,288.22 L464.45,288.19 L464.45,288.19 L464.49,340.38 L464.50,340.97 L464.52,341.62 L464.54,342.31 L464.56,343.06 L464.59,343.87 L464.61,344.73 L464.64,345.65 L464.66,346.63 L464.69,347.65 L464.72,348.72 L464.75,349.83 L464.79,350.96 L464.82,352.11 L464.86,353.24 L464.90,354.33 L464.94,355.36 L464.98,356.26 L465.03,357.00 L465.07,357.49 L465.13,357.68 L465.18,357.80 L465.24,357.93 L465.30,358.06 L465.36,358.19 L465.43,358.32 L465.47,358.39 L465.50,358.45 L465.57,358.58 L465.65,358.71 L465.73,358.84 L465.82,358.97 L465.92,359.09 L466.01,359.21 L466.12,359.33 L466.23,359.45 L466.34,359.56 L466.45,359.65 L466.46,359.67 L466.59,359.77 L466.73,359.87 L466.87,359.96 L467.02,360.05 L467.18,360.13 L467.35,360.22 L467.43,360.26 L467.53,360.31 L467.72,360.40 L467.91,360.50 L468.12,360.62 L468.35,360.77 L468.41,360.81 L468.58,360.94 L468.83,361.12 L469.09,361.31 L469.36,361.51 L469.39,361.53 L469.65,361.71 L469.96,361.92 L470.28,362.13 L470.37,362.18 L470.62,362.34 L470.98,362.54 L471.35,362.73 L471.36,362.74 L471.76,362.92 L472.19,363.07 L472.33,363.11 L472.64,363.20 L473.11,363.34 L473.31,363.39 L473.61,363.47 L474.14,363.61 L474.29,363.64 L474.69,363.74 L475.27,363.88 L475.28,363.88 L475.90,364.02 L476.25,364.10 L476.55,364.16 L477.23,364.30 L477.25,364.30 L477.98,364.44 L478.21,364.48 L478.75,364.57 L479.19,364.65 L479.56,364.71 L480.17,364.80 L480.42,364.84 L481.15,364.94 L481.33,364.97 L482.13,365.08 L482.28,365.10 L483.11,365.20 L483.29,365.22 L484.09,365.31 L484.36,365.34 L485.07,365.41 L485.49,365.45 L486.05,365.51 L486.68,365.57 L487.03,365.60 L487.93,365.68 L488.01,365.69 L488.99,365.77 L489.26,365.80 L489.97,365.85 L490.66,365.91 L490.95,365.93 L491.93,366.00 L492.14,366.02 L492.91,366.07 L493.70,366.13 L493.89,366.14 L494.87,366.20 L495.35,366.23 L495.85,366.26 L496.83,366.32 L497.08,366.34 L497.81,366.38 L498.79,366.43 L498.92,366.44 L499.77,366.48 L500.75,366.53 L500.86,366.54 L501.73,366.58 L502.71,366.63 L502.91,366.64 L503.69,366.67 L504.67,366.72 L505.07,366.74 L505.65,366.76 L506.63,366.81 L507.35,366.84 L507.61,366.85 L508.59,366.89 L509.57,366.93 L509.76,366.94 L510.55,366.97 L511.53,367.01 L512.30,367.04 L512.51,367.05 L513.49,367.09 L514.47,367.12 L514.99,367.14 L515.45,367.16 L516.43,367.19 L517.41,367.23 L517.82,367.24 L518.39,367.26 L519.37,367.29 L520.35,367.32 L520.81,367.34 L521.33,367.36 L522.31,367.39 L523.29,367.42 L523.97,367.44 L524.27,367.45 L525.25,367.48 L526.23,367.50 L527.21,367.53 L527.31,367.54 L528.19,367.56 L529.17,367.59 L530.15,367.62 L530.83,367.64 L531.13,367.65 L532.11,367.68 L533.09,367.71 L534.07,367.74 L534.55,367.75 L535.05,367.77 L536.03,367.80 L537.01,367.83 L537.99,367.86 L538.47,367.87 L538.97,367.89 L539.95,367.92 L540.93,367.95 L541.91,367.99 L542.62,368.01 L542.89,368.02 L543.87,368.06 L544.85,368.09 L545.83,368.13 L546.81,368.17 L547.00,368.17 L547.79,368.20 L548.77,368.24 L549.75,368.28 L550.73,368.32 L551.62,368.35 L551.71,368.35 L552.69,368.39 L553.67,368.43 L554.65,368.47 L555.63,368.51 L556.49,368.54 L556.61,368.55 L557.59,368.59 L558.57,368.63 L559.55,368.66 L560.54,368.70 L561.52,368.74 L561.64,368.75 L562.50,368.78 L563.48,368.82 L564.46,368.85 L565.44,368.89 L566.42,368.93 L567.08,368.95 L567.40,368.96 L568.38,369.00 L569.36,369.03 L570.34,369.06 L571.32,369.10 L572.30,369.13 L572.82,369.15 L573.28,369.16 L574.26,369.19 L575.24,369.22 L576.22,369.25 L577.20,369.27 L578.18,369.30 L578.88,369.32 L579.16,369.32 L580.14,369.35 L581.12,369.37 L582.10,369.39 L583.08,369.41 L584.06,369.43 L585.04,369.44 L585.28,369.45 L586.02,369.46 L587.00,369.48 L587.98,369.49 L588.96,369.51 L589.94,369.52 L590.92,369.53 L591.90,369.54 L592.03,369.55 L592.88,369.56 L593.86,369.57 L594.84,369.58 L595.82,369.59 L596.80,369.60 L597.78,369.61 L598.76,369.62 L599.16,369.62 L599.74,369.63 L600.72,369.64 L601.70,369.65 L602.68,369.66 L603.66,369.67 L604.64,369.68 L605.62,369.69 L606.60,369.71 L606.69,369.71 L607.58,369.72 L608.56,369.73 L609.54,369.74 L610.52,369.76 L611.50,369.77 L612.48,369.79 L613.46,369.80 L614.44,369.82 L614.64,369.82 L615.42,369.84 L616.40,369.85 L617.38,369.87 L618.36,369.89 L619.34,369.90 L620.32,369.92 L621.30,369.93 L622.28,369.95 L623.03,369.96 L623.26,369.96 L624.24,369.98 L625.22,369.99 L626.20,370.01 L627.18,370.02 L628.16,370.03 L629.14,370.05 L630.12,370.07 L631.10,370.08 L631.89,370.10 L632.08,370.10 L633.06,370.12 L634.04,370.14 L635.02,370.16 L636.00,370.18 L636.98,370.20 L637.96,370.22 L638.94,370.25 L639.92,370.27 L640.90,370.30 L641.25,370.31 L641.88,370.33 L642.86,370.36 L643.84,370.39 L644.82,370.43 L645.80,370.46 L646.78,370.50 L647.76,370.54 L648.74,370.59 L649.72,370.63 L650.70,370.68 L651.12,370.70 L651.68,370.73 L652.66,370.78 L653.64,370.84 L654.62,370.90 L655.60,370.96 L656.58,371.02 L657.56,371.09 L658.55,371.16 L659.53,371.23 L660.51,371.31 L661.49,371.65 L661.55,371.69 L662.47,372.37 L663.45,373.29 L664.43,374.25 L665.41,375.09 L666.39,375.62 L667.37,375.73 L668.35,375.73 L669.33,375.73 L670.31,375.68 L671.29,375.48 L672.27,375.19 L672.56,375.10 L672.56,375.10" fill="none" stroke="#ff2a2a" stroke-width="1.15" stroke-linejoin="round"/>
<path d="M406.30,404.76 L407.33,404.85 L408.36,404.91 L409.40,404.94 L410.43,404.96 L411.46,404.97 L412.49,404.97 L413.52,404.95 L414.55,404.86 L415.59,404.71 L416.62,404.53 L417.65,404.36 L418.68,404.20 L419.71,404.10 L420.74,404.02 L421.78,403.94 L422.81,403.87 L423.84,403.80 L424.87,403.75 L425.90,403.71 L425.90,403.71 L426.07,291.78 L426.07,291.71 L426.10,291.51 L426.14,291.17 L426.19,290.70 L426.27,290.11 L426.35,289.41 L426.46,288.60 L426.58,287.69 L426.72,286.71 L426.87,285.67 L427.04,284.59 L427.22,283.50 L427.42,282.39 L427.64,281.25 L427.87,280.15 L428.12,279.17 L428.39,278.33 L428.67,277.50 L428.96,276.68 L429.28,275.88 L429.61,275.10 L429.95,274.36 L430.31,273.65 L430.69,272.97 L431.08,272.34 L431.49,271.74 L431.92,271.16 L432.36,270.60 L432.82,270.05 L433.29,269.52 L433.78,269.02 L434.29,268.53 L434.81,268.07 L435.35,267.64 L435.90,267.25 L436.47,266.88 L437.06,266.53 L437.66,266.17 L438.28,265.82 L438.91,265.48 L439.56,265.16 L440.23,264.84 L440.91,264.55 L441.61,264.28 L442.32,264.03 L443.05,263.82 L443.80,263.65 L444.56,263.53 L445.34,263.41 L446.14,263.30 L446.95,263.20 L447.77,263.11 L448.62,263.03 L449.48,262.95 L450.35,262.87 L451.24,262.80 L452.15,262.74 L453.07,262.67 L454.01,262.61 L454.97,262.55 L455.94,262.49 L456.93,262.43 L457.93,262.38 L458.95,262.32 L459.99,262.27 L461.04,262.22 L462.11,262.18 L463.19,262.14 L464.29,262.11 L464.29,262.11 L464.32,294.09 L464.34,295.40 L464.36,296.78 L464.38,298.23 L464.40,299.74 L464.42,301.32 L464.45,302.95 L464.47,304.64 L464.50,306.36 L464.53,308.12 L464.56,309.90 L464.59,311.67 L464.62,313.41 L464.66,315.07 L464.69,316.64 L464.73,318.04 L464.77,319.21 L464.82,320.21 L464.86,321.20 L464.91,322.17 L464.96,323.14 L465.02,324.07 L465.07,324.97 L465.13,325.82 L465.20,326.61 L465.26,327.33 L465.30,327.68 L465.33,327.95 L465.41,328.47 L465.49,328.89 L465.57,329.31 L465.66,329.73 L465.75,330.15 L465.85,330.56 L465.95,330.98 L466.06,331.38 L466.18,331.78 L466.28,332.12 L466.30,332.18 L466.43,332.56 L466.56,332.93 L466.71,333.29 L466.86,333.65 L467.02,333.99 L467.19,334.33 L467.26,334.48 L467.37,334.67 L467.55,335.02 L467.75,335.37 L467.96,335.76 L468.18,336.19 L468.24,336.31 L468.42,336.69 L468.66,337.23 L468.92,337.80 L469.20,338.40 L469.22,338.45 L469.49,339.02 L469.80,339.66 L470.12,340.32 L470.20,340.48 L470.46,340.98 L470.82,341.64 L471.18,342.25 L471.20,342.28 L471.60,342.89 L472.03,343.45 L472.16,343.60 L472.48,343.94 L472.95,344.42 L473.14,344.61 L473.45,344.91 L473.98,345.41 L474.12,345.54 L474.53,345.91 L475.10,346.41 L475.12,346.42 L475.74,346.94 L476.08,347.21 L476.40,347.46 L477.06,347.96 L477.09,347.98 L477.82,348.50 L478.04,348.65 L478.59,349.02 L479.02,349.29 L479.40,349.53 L480.00,349.89 L480.26,350.05 L480.98,350.46 L481.17,350.56 L481.96,350.98 L482.13,351.07 L482.94,351.47 L483.14,351.57 L483.92,351.94 L484.21,352.07 L484.90,352.39 L485.34,352.58 L485.88,352.82 L486.53,353.09 L486.86,353.23 L487.78,353.62 L487.84,353.64 L488.82,354.03 L489.11,354.15 L489.80,354.41 L490.51,354.68 L490.78,354.78 L491.76,355.14 L491.99,355.22 L492.74,355.48 L493.55,355.76 L493.72,355.81 L494.71,356.14 L495.20,356.29 L495.69,356.45 L496.67,356.75 L496.94,356.83 L497.65,357.04 L498.63,357.32 L498.78,357.36 L499.61,357.59 L500.59,357.86 L500.72,357.89 L501.57,358.11 L502.55,358.36 L502.77,358.42 L503.53,358.60 L504.51,358.84 L504.93,358.94 L505.49,359.06 L506.47,359.28 L507.21,359.45 L507.45,359.50 L508.43,359.71 L509.41,359.91 L509.62,359.96 L510.39,360.11 L511.37,360.31 L512.17,360.47 L512.35,360.50 L513.33,360.69 L514.31,360.88 L514.85,360.98 L515.29,361.06 L516.27,361.24 L517.25,361.41 L517.69,361.49 L518.23,361.58 L519.21,361.75 L520.19,361.91 L520.69,362.00 L521.17,362.08 L522.15,362.23 L523.13,362.39 L523.85,362.50 L524.11,362.54 L525.09,362.69 L526.07,362.84 L527.05,362.99 L527.19,363.01 L528.03,363.13 L529.01,363.27 L529.99,363.41 L530.71,363.51 L530.97,363.54 L531.95,363.68 L532.93,363.81 L533.91,363.94 L534.43,364.01 L534.89,364.07 L535.87,364.20 L536.85,364.32 L537.83,364.45 L538.36,364.51 L538.81,364.57 L539.79,364.69 L540.77,364.81 L541.75,364.93 L542.51,365.02 L542.73,365.05 L543.71,365.16 L544.69,365.28 L545.67,365.39 L546.65,365.50 L546.89,365.53 L547.63,365.61 L548.61,365.72 L549.59,365.83 L550.57,365.94 L551.51,366.04 L551.55,366.04 L552.53,366.15 L553.51,366.25 L554.49,366.35 L555.47,366.46 L556.39,366.55 L556.45,366.56 L557.43,366.66 L558.41,366.75 L559.39,366.85 L560.37,366.95 L561.35,367.04 L561.55,367.06 L562.33,367.14 L563.31,367.23 L564.29,367.32 L565.27,367.41 L566.25,367.51 L566.99,367.57 L567.23,367.60 L568.21,367.68 L569.19,367.77 L570.17,367.86 L571.15,367.95 L572.13,368.04 L572.73,368.09 L573.11,368.12 L574.09,368.21 L575.07,368.29 L576.05,368.38 L577.03,368.46 L578.01,368.54 L578.80,368.61 L578.99,368.63 L579.97,368.71 L580.95,368.79 L581.93,368.87 L582.91,368.96 L583.89,369.04 L584.87,369.12 L585.20,369.15 L585.85,369.21 L586.83,369.29 L587.81,369.37 L588.79,369.46 L589.77,369.54 L590.75,369.63 L591.73,369.71 L591.96,369.72 L592.72,369.78 L593.70,369.86 L594.68,369.93 L595.66,370.00 L596.64,370.06 L597.62,370.12 L598.60,370.18 L599.10,370.20 L599.58,370.22 L600.56,370.26 L601.54,370.30 L602.52,370.34 L603.50,370.37 L604.48,370.39 L605.46,370.42 L606.44,370.45 L606.63,370.45 L607.42,370.47 L608.40,370.49 L609.38,370.51 L610.36,370.54 L611.34,370.56 L612.32,370.59 L613.30,370.61 L614.28,370.64 L614.59,370.65 L615.26,370.67 L616.24,370.71 L617.22,370.74 L618.20,370.77 L619.18,370.79 L620.16,370.82 L621.14,370.85 L622.12,370.87 L622.99,370.89 L623.10,370.89 L624.08,370.92 L625.06,370.94 L626.04,370.96 L627.02,370.99 L628.00,371.01 L628.98,371.03 L629.96,371.06 L630.94,371.08 L631.86,371.10 L631.92,371.10 L632.90,371.13 L633.88,371.16 L634.86,371.18 L635.84,371.21 L636.82,371.24 L637.80,371.27 L638.78,371.31 L639.76,371.34 L640.74,371.38 L641.22,371.40 L641.72,371.42 L642.70,371.46 L643.68,371.50 L644.66,371.55 L645.64,371.60 L646.62,371.65 L647.60,371.71 L648.58,371.76 L649.56,371.83 L650.54,371.89 L651.11,371.93 L651.52,371.96 L652.50,372.03 L653.48,372.11 L654.46,372.19 L655.44,372.27 L656.42,372.36 L657.40,372.46 L658.38,372.56 L659.36,372.66 L660.34,372.77 L661.32,373.11 L661.54,373.26 L662.30,373.94 L663.28,375.05 L664.26,376.24 L665.24,377.31 L666.22,378.04 L667.20,378.25 L668.18,378.13 L669.16,377.93 L670.14,377.72 L671.12,377.46 L672.10,377.15 L672.56,376.99" fill="none" stroke="#2e9a35" stroke-width="1.15" stroke-linejoin="round"/>
<path d="M406.30,404.76 L407.33,404.85 L408.36,404.91 L409.40,404.94 L410.43,404.96 L411.46,404.97 L412.49,404.97 L413.52,404.95 L414.55,404.86 L415.59,404.71 L416.62,404.53 L417.65,404.36 L418.68,404.20 L419.71,404.10 L420.74,404.02 L421.78,403.94 L422.81,403.87 L423.84,403.80 L424.87,403.75 L425.90,403.71 L425.90,403.71 L426.07,291.78 L426.07,291.72 L426.10,291.56 L426.14,291.29 L426.19,290.92 L426.27,290.46 L426.36,289.90 L426.46,289.28 L426.58,288.62 L426.72,287.97 L426.87,287.39 L427.04,286.89 L427.23,286.39 L427.43,285.92 L427.65,285.48 L427.88,285.07 L428.13,284.70 L428.40,284.36 L428.68,284.00 L428.98,283.64 L429.29,283.28 L429.62,282.92 L429.97,282.57 L430.33,282.24 L430.71,281.94 L431.10,281.67 L431.52,281.45 L431.94,281.30 L432.39,281.20 L432.85,281.11 L433.32,281.03 L433.81,280.95 L434.32,280.87 L434.85,280.79 L435.39,280.72 L435.94,280.66 L436.51,280.60 L437.10,280.55 L437.71,280.50 L438.33,280.47 L438.97,280.44 L439.62,280.42 L440.29,280.42 L440.97,280.42 L441.68,280.42 L442.39,280.43 L443.13,280.44 L443.88,280.45 L444.64,280.46 L445.42,280.48 L446.22,280.50 L447.04,280.52 L447.87,280.55 L448.71,280.57 L449.58,280.60 L450.46,280.63 L451.35,280.66 L452.26,280.71 L453.19,280.77 L454.13,280.84 L455.09,280.93 L456.07,281.02 L457.06,281.13 L458.07,281.24 L459.09,281.37 L460.13,281.51 L461.19,281.66 L462.26,281.81 L463.35,281.98 L464.45,282.15 L464.45,282.15 L464.49,340.38 L464.50,341.48 L464.52,342.64 L464.54,343.87 L464.56,345.15 L464.59,346.50 L464.61,347.91 L464.64,349.40 L464.66,350.94 L464.69,352.56 L464.72,354.24 L464.75,355.99 L464.79,357.80 L464.82,359.66 L464.86,361.58 L464.90,363.53 L464.94,365.51 L464.98,367.51 L465.03,369.50 L465.07,371.47 L465.13,373.37 L465.18,375.17 L465.24,376.83 L465.30,378.29 L465.36,379.47 L465.43,380.31 L465.47,380.63 L465.50,380.89 L465.57,381.44 L465.65,381.96 L465.73,382.45 L465.82,382.90 L465.92,383.32 L466.01,383.71 L466.12,384.08 L466.23,384.43 L466.34,384.78 L466.45,385.08 L466.46,385.13 L466.59,385.49 L466.73,385.85 L466.87,386.20 L467.02,386.54 L467.18,386.86 L467.35,387.17 L467.43,387.30 L467.53,387.46 L467.72,387.72 L467.91,387.96 L468.12,388.21 L468.35,388.47 L468.41,388.54 L468.58,388.73 L468.83,389.00 L469.09,389.26 L469.36,389.52 L469.39,389.55 L469.65,389.78 L469.96,390.03 L470.28,390.26 L470.37,390.31 L470.62,390.47 L470.98,390.65 L471.35,390.79 L471.36,390.80 L471.76,390.90 L472.19,391.00 L472.33,391.02 L472.64,391.09 L473.11,391.18 L473.31,391.22 L473.61,391.27 L474.14,391.37 L474.29,391.39 L474.69,391.46 L475.27,391.55 L475.28,391.55 L475.90,391.64 L476.25,391.69 L476.55,391.73 L477.23,391.82 L477.25,391.82 L477.98,391.91 L478.21,391.93 L478.75,391.99 L479.19,392.03 L479.56,392.07 L480.17,392.12 L480.42,392.14 L481.15,392.20 L481.33,392.21 L482.13,392.27 L482.28,392.28 L483.11,392.33 L483.29,392.35 L484.09,392.39 L484.36,392.41 L485.07,392.45 L485.49,392.47 L486.05,392.50 L486.68,392.53 L487.03,392.54 L487.93,392.59 L488.01,392.59 L488.99,392.64 L489.26,392.65 L489.97,392.68 L490.66,392.71 L490.95,392.73 L491.93,392.77 L492.14,392.78 L492.91,392.81 L493.70,392.84 L493.89,392.85 L494.87,392.88 L495.35,392.90 L495.85,392.92 L496.83,392.95 L497.08,392.96 L497.81,392.99 L498.79,393.02 L498.92,393.02 L499.77,393.05 L500.75,393.08 L500.86,393.08 L501.73,393.11 L502.71,393.14 L502.91,393.14 L503.69,393.16 L504.67,393.19 L505.07,393.20 L505.65,393.22 L506.63,393.24 L507.35,393.26 L507.61,393.26 L508.59,393.29 L509.57,393.31 L509.76,393.31 L510.55,393.33 L511.53,393.35 L512.30,393.37 L512.51,393.38 L513.49,393.40 L514.47,393.42 L514.99,393.43 L515.45,393.44 L516.43,393.46 L517.41,393.48 L517.82,393.49 L518.39,393.50 L519.37,393.52 L520.35,393.54 L520.81,393.55 L521.33,393.56 L522.31,393.58 L523.29,393.60 L523.97,393.61 L524.27,393.62 L525.25,393.64 L526.23,393.66 L527.21,393.68 L527.31,393.68 L528.19,393.70 L529.17,393.72 L530.15,393.75 L530.83,393.76 L531.13,393.77 L532.11,393.79 L533.09,393.82 L534.07,393.84 L534.55,393.85 L535.05,393.87 L536.03,393.89 L537.01,393.92 L537.99,393.95 L538.47,393.97 L538.97,393.98 L539.95,394.01 L540.93,394.04 L541.91,394.08 L542.62,394.10 L542.89,394.11 L543.87,394.14 L544.85,394.18 L545.83,394.21 L546.81,394.24 L547.00,394.25 L547.79,394.28 L548.77,394.31 L549.75,394.35 L550.73,394.39 L551.62,394.42 L551.71,394.42 L552.69,394.46 L553.67,394.50 L554.65,394.53 L555.63,394.57 L556.49,394.60 L556.61,394.61 L557.59,394.65 L558.57,394.69 L559.55,394.72 L560.54,394.76 L561.52,394.80 L561.64,394.81 L562.50,394.84 L563.48,394.88 L564.46,394.92 L565.44,394.96 L566.42,395.00 L567.08,395.03 L567.40,395.04 L568.38,395.08 L569.36,395.12 L570.34,395.16 L571.32,395.20 L572.30,395.25 L572.82,395.27 L573.28,395.29 L574.26,395.33 L575.24,395.37 L576.22,395.41 L577.20,395.45 L578.18,395.49 L578.88,395.52 L579.16,395.54 L580.14,395.58 L581.12,395.62 L582.10,395.66 L583.08,395.70 L584.06,395.74 L585.04,395.79 L585.28,395.80 L586.02,395.83 L587.00,395.87 L587.98,395.92 L588.96,395.96 L589.94,396.01 L590.92,396.05 L591.90,396.09 L592.03,396.10 L592.88,396.14 L593.86,396.19 L594.84,396.23 L595.82,396.28 L596.80,396.32 L597.78,396.37 L598.76,396.42 L599.16,396.44 L599.74,396.46 L600.72,396.51 L601.70,396.56 L602.68,396.60 L603.66,396.65 L604.64,396.69 L605.62,396.74 L606.60,396.79 L606.69,396.79 L607.58,396.83 L608.56,396.88 L609.54,396.92 L610.52,396.97 L611.50,397.01 L612.48,397.06 L613.46,397.10 L614.44,397.15 L614.64,397.15 L615.42,397.19 L616.40,397.23 L617.38,397.27 L618.36,397.31 L619.34,397.34 L620.32,397.37 L621.30,397.40 L622.28,397.43 L623.03,397.45 L623.26,397.46 L624.24,397.48 L625.22,397.50 L626.20,397.53 L627.18,397.55 L628.16,397.57 L629.14,397.59 L630.12,397.61 L631.10,397.63 L631.89,397.64 L632.08,397.65 L633.06,397.67 L634.04,397.69 L635.02,397.71 L636.00,397.73 L636.98,397.75 L637.96,397.78 L638.94,397.80 L639.92,397.83 L640.90,397.86 L641.25,397.87 L641.88,397.89 L642.86,397.92 L643.84,397.96 L644.82,398.00 L645.80,398.04 L646.78,398.08 L647.76,398.12 L648.74,398.17 L649.72,398.23 L650.70,398.28 L651.12,398.31 L651.68,398.34 L652.66,398.41 L653.64,398.48 L654.62,398.55 L655.60,398.62 L656.58,398.71 L657.56,398.79 L658.55,398.89 L659.53,398.98 L660.51,399.09 L661.49,399.79 L661.55,399.87 L662.47,401.31 L663.45,403.22 L664.43,405.11 L665.41,406.53 L666.39,407.08 L667.37,406.67 L668.35,405.82 L669.33,404.96 L670.31,404.37 L671.29,403.86 L672.27,403.41 L672.56,403.29 L672.56,403.29" fill="none" stroke="#1f2cff" stroke-width="1.15" stroke-linejoin="round"/>
<path d="M406.30,404.76 L407.33,404.85 L408.36,404.91 L409.40,404.94 L410.43,404.96 L411.46,404.97 L412.49,404.97 L413.52,404.95 L414.55,404.86 L415.59,404.71 L416.62,404.53 L417.65,404.36 L418.68,404.20 L419.71,404.10 L420.74,404.02 L421.78,403.94 L422.81,403.87 L423.84,403.80 L424.87,403.75 L425.90,403.71 L425.90,403.71 L426.07,297.67 L426.07,297.64 L426.10,297.56 L426.14,297.43 L426.19,297.24 L426.27,297.00 L426.36,296.71 L426.46,296.38 L426.58,296.00 L426.72,295.59 L426.87,295.14 L427.04,294.68 L427.23,294.22 L427.43,293.77 L427.65,293.36 L427.88,293.02 L428.13,292.72 L428.40,292.42 L428.68,292.15 L428.98,291.89 L429.29,291.65 L429.62,291.43 L429.97,291.24 L430.33,291.06 L430.71,290.89 L431.10,290.72 L431.52,290.55 L431.94,290.39 L432.39,290.23 L432.85,290.08 L433.32,289.94 L433.81,289.80 L434.32,289.67 L434.85,289.55 L435.39,289.43 L435.94,289.32 L436.51,289.23 L437.10,289.13 L437.71,289.03 L438.33,288.93 L438.97,288.83 L439.62,288.73 L440.29,288.63 L440.97,288.53 L441.68,288.44 L442.39,288.34 L443.13,288.25 L443.88,288.17 L444.64,288.09 L445.42,288.01 L446.22,287.95 L447.04,287.89 L447.87,287.84 L448.71,287.81 L449.58,287.79 L450.46,287.78 L451.35,287.78 L452.26,287.78 L453.19,287.78 L454.13,287.79 L455.09,287.80 L456.07,287.81 L457.06,287.83 L458.07,287.85 L459.09,287.89 L460.13,287.93 L461.19,287.98 L462.26,288.05 L463.35,288.13 L464.45,288.23 L464.45,288.23 L464.49,340.38 L464.50,341.06 L464.52,341.78 L464.54,342.54 L464.56,343.35 L464.59,344.20 L464.61,345.10 L464.64,346.04 L464.66,347.04 L464.69,348.08 L464.72,349.17 L464.75,350.31 L464.79,351.50 L464.82,352.73 L464.86,354.01 L464.90,355.32 L464.94,356.66 L464.98,358.02 L465.03,359.39 L465.07,360.76 L465.13,362.09 L465.18,363.38 L465.24,364.58 L465.30,365.66 L465.36,366.58 L465.43,367.27 L465.47,367.56 L465.50,367.80 L465.57,368.34 L465.65,368.87 L465.73,369.39 L465.82,369.91 L465.92,370.41 L466.01,370.91 L466.12,371.38 L466.23,371.83 L466.34,372.26 L466.45,372.61 L466.46,372.67 L466.59,373.04 L466.73,373.38 L466.87,373.69 L467.02,373.97 L467.18,374.23 L467.35,374.48 L467.43,374.59 L467.53,374.74 L467.72,375.00 L467.91,375.25 L468.12,375.50 L468.35,375.75 L468.41,375.82 L468.58,376.00 L468.83,376.24 L469.09,376.47 L469.36,376.70 L469.39,376.72 L469.65,376.92 L469.96,377.13 L470.28,377.33 L470.37,377.38 L470.62,377.53 L470.98,377.72 L471.35,377.90 L471.36,377.91 L471.76,378.10 L472.19,378.30 L472.33,378.36 L472.64,378.50 L473.11,378.71 L473.31,378.79 L473.61,378.92 L474.14,379.14 L474.29,379.20 L474.69,379.37 L475.27,379.59 L475.28,379.60 L475.90,379.83 L476.25,379.96 L476.55,380.07 L477.23,380.30 L477.25,380.31 L477.98,380.55 L478.21,380.62 L478.75,380.79 L479.19,380.92 L479.56,381.02 L480.17,381.19 L480.42,381.26 L481.15,381.44 L481.33,381.48 L482.13,381.66 L482.28,381.70 L483.11,381.87 L483.29,381.90 L484.09,382.04 L484.36,382.09 L485.07,382.20 L485.49,382.26 L486.05,382.33 L486.68,382.40 L487.03,382.43 L487.93,382.51 L488.01,382.52 L488.99,382.60 L489.26,382.62 L489.97,382.67 L490.66,382.72 L490.95,382.74 L491.93,382.80 L492.14,382.82 L492.91,382.86 L493.70,382.91 L493.89,382.92 L494.87,382.97 L495.35,382.99 L495.85,383.02 L496.83,383.06 L497.08,383.07 L497.81,383.11 L498.79,383.15 L498.92,383.15 L499.77,383.19 L500.75,383.22 L500.86,383.23 L501.73,383.26 L502.71,383.30 L502.91,383.30 L503.69,383.33 L504.67,383.37 L505.07,383.38 L505.65,383.40 L506.63,383.44 L507.35,383.46 L507.61,383.47 L508.59,383.51 L509.57,383.55 L509.76,383.56 L510.55,383.59 L511.53,383.63 L512.30,383.66 L512.51,383.67 L513.49,383.70 L514.47,383.74 L514.99,383.76 L515.45,383.77 L516.43,383.81 L517.41,383.84 L517.82,383.86 L518.39,383.88 L519.37,383.91 L520.35,383.95 L520.81,383.96 L521.33,383.98 L522.31,384.01 L523.29,384.04 L523.97,384.07 L524.27,384.08 L525.25,384.11 L526.23,384.14 L527.21,384.17 L527.31,384.17 L528.19,384.20 L529.17,384.23 L530.15,384.26 L530.83,384.28 L531.13,384.29 L532.11,384.32 L533.09,384.35 L534.07,384.38 L534.55,384.39 L535.05,384.41 L536.03,384.43 L537.01,384.46 L537.99,384.49 L538.47,384.50 L538.97,384.52 L539.95,384.55 L540.93,384.57 L541.91,384.60 L542.62,384.62 L542.89,384.63 L543.87,384.66 L544.85,384.68 L545.83,384.71 L546.81,384.74 L547.00,384.74 L547.79,384.76 L548.77,384.79 L549.75,384.82 L550.73,384.84 L551.62,384.86 L551.71,384.87 L552.69,384.89 L553.67,384.92 L554.65,384.94 L555.63,384.97 L556.49,384.99 L556.61,384.99 L557.59,385.02 L558.57,385.04 L559.55,385.07 L560.54,385.09 L561.52,385.11 L561.64,385.12 L562.50,385.14 L563.48,385.16 L564.46,385.19 L565.44,385.21 L566.42,385.23 L567.08,385.25 L567.40,385.25 L568.38,385.28 L569.36,385.30 L570.34,385.32 L571.32,385.35 L572.30,385.37 L572.82,385.38 L573.28,385.39 L574.26,385.41 L575.24,385.44 L576.22,385.46 L577.20,385.48 L578.18,385.50 L578.88,385.52 L579.16,385.52 L580.14,385.55 L581.12,385.57 L582.10,385.59 L583.08,385.61 L584.06,385.63 L585.04,385.65 L585.28,385.66 L586.02,385.67 L587.00,385.69 L587.98,385.71 L588.96,385.73 L589.94,385.75 L590.92,385.77 L591.90,385.79 L592.03,385.80 L592.88,385.81 L593.86,385.83 L594.84,385.85 L595.82,385.87 L596.80,385.89 L597.78,385.91 L598.76,385.93 L599.16,385.94 L599.74,385.95 L600.72,385.97 L601.70,385.99 L602.68,386.01 L603.66,386.02 L604.64,386.04 L605.62,386.06 L606.60,386.08 L606.69,386.08 L607.58,386.10 L608.56,386.12 L609.54,386.14 L610.52,386.15 L611.50,386.17 L612.48,386.19 L613.46,386.21 L614.44,386.23 L614.64,386.23 L615.42,386.25 L616.40,386.27 L617.38,386.28 L618.36,386.30 L619.34,386.31 L620.32,386.33 L621.30,386.34 L622.28,386.35 L623.03,386.36 L623.26,386.36 L624.24,386.37 L625.22,386.38 L626.20,386.39 L627.18,386.40 L628.16,386.41 L629.14,386.42 L630.12,386.43 L631.10,386.44 L631.89,386.45 L632.08,386.45 L633.06,386.46 L634.04,386.47 L635.02,386.47 L636.00,386.48 L636.98,386.49 L637.96,386.51 L638.94,386.52 L639.92,386.53 L640.90,386.54 L641.25,386.55 L641.88,386.55 L642.86,386.57 L643.84,386.58 L644.82,386.60 L645.80,386.62 L646.78,386.64 L647.76,386.66 L648.74,386.68 L649.72,386.71 L650.70,386.73 L651.12,386.74 L651.68,386.76 L652.66,386.79 L653.64,386.82 L654.62,386.85 L655.60,386.88 L656.58,386.92 L657.56,386.96 L658.55,387.00 L659.53,387.04 L660.51,387.09 L661.49,387.47 L661.55,387.52 L662.47,388.31 L663.45,389.37 L664.43,390.41 L665.41,391.21 L666.39,391.51 L667.37,391.33 L668.35,390.95 L669.33,390.55 L670.31,390.25 L671.29,389.97 L672.27,389.69 L672.56,389.61 L672.56,389.61" fill="none" stroke="#ff1fff" stroke-width="1.15" stroke-linejoin="round"/>
<text x="0" y="0" font-size="8.3" font-weight="bold" text-anchor="middle" textLength="96" lengthAdjust="spacingAndGlyphs" transform="translate(372.0,113.0) rotate(-90)">Response (0 = baseline)</text>
<text x="0" y="0" font-size="8.3" font-weight="bold" text-anchor="middle" textLength="96" lengthAdjust="spacingAndGlyphs" transform="translate(21.0,344.5) rotate(-90)">Response (0 = baseline)</text>
<text x="0" y="0" font-size="8.3" font-weight="bold" text-anchor="middle" textLength="96" lengthAdjust="spacingAndGlyphs" transform="translate(374.0,343.3) rotate(-90)">Response (0 = baseline)</text>
<text x="537.50" y="220.60" font-size="9" font-weight="bold" text-anchor="middle" fill="#000" textLength="21.00" lengthAdjust="spacingAndGlyphs" >Time</text>
<text x="708.00" y="221.00" font-size="8" font-weight="normal" text-anchor="middle" fill="#000" >s</text>
<text x="185.30" y="454.20" font-size="9" font-weight="bold" text-anchor="middle" fill="#000" textLength="21.50" lengthAdjust="spacingAndGlyphs" >Time</text>
<text x="537.30" y="452.40" font-size="9" font-weight="bold" text-anchor="middle" fill="#000" textLength="20.50" lengthAdjust="spacingAndGlyphs" >Time</text>
<text x="706.50" y="451.20" font-size="8" font-weight="normal" text-anchor="middle" fill="#000" >s</text>
<text x="504.00" y="81.90" font-size="20.4" stroke="#000" stroke-width="0.3" textLength="166.50" lengthAdjust="spacingAndGlyphs">Kd = 1.68 x 10<tspan font-size="11" dy="-5">-8</tspan><tspan dy="5"> M</tspan></text>
<text x="133.20" y="305.00" font-size="20.4" stroke="#000" stroke-width="0.3" textLength="165.50" lengthAdjust="spacingAndGlyphs">Kd = 1.54 x 10<tspan font-size="11" dy="-5">-7</tspan><tspan dy="5"> M</tspan></text>
<text x="480.40" y="305.30" font-size="20.4" stroke="#000" stroke-width="0.3" textLength="166.50" lengthAdjust="spacingAndGlyphs">Kd = 1.46 x 10<tspan font-size="11" dy="-5">-7</tspan><tspan dy="5"> M</tspan></text>
<g><ellipse cx="191.00" cy="74.40" rx="5.0" ry="1.8" fill="#ff4a4a" fill-opacity="0.8"/>
<ellipse cx="200.30" cy="79.30" rx="5.0" ry="1.8" fill="#ff4a4a" fill-opacity="0.8"/>
<ellipse cx="210.00" cy="74.40" rx="5.0" ry="1.8" fill="#ff4a4a" fill-opacity="0.8"/>
<ellipse cx="210.00" cy="64.20" rx="5.0" ry="1.8" fill="#ff4a4a" fill-opacity="0.8"/>
<ellipse cx="220.00" cy="59.30" rx="5.0" ry="1.8" fill="#ff4a4a" fill-opacity="0.8"/>
<ellipse cx="230.00" cy="64.20" rx="5.0" ry="1.8" fill="#ff4a4a" fill-opacity="0.8"/>
<ellipse cx="230.00" cy="74.40" rx="5.0" ry="1.8" fill="#ff4a4a" fill-opacity="0.8"/>
<ellipse cx="239.80" cy="79.30" rx="5.0" ry="1.8" fill="#ff4a4a" fill-opacity="0.8"/>
<ellipse cx="249.30" cy="74.40" rx="5.0" ry="1.8" fill="#ff4a4a" fill-opacity="0.8"/>
<ellipse cx="268.00" cy="74.40" rx="5.0" ry="1.8" fill="#ff4a4a" fill-opacity="0.8"/>
<ellipse cx="277.60" cy="79.00" rx="5.0" ry="1.8" fill="#ff4a4a" fill-opacity="0.8"/>
<ellipse cx="287.30" cy="75.00" rx="5.0" ry="1.8" fill="#ff4a4a" fill-opacity="0.8"/>
<ellipse cx="296.70" cy="79.30" rx="5.0" ry="1.8" fill="#ff4a4a" fill-opacity="0.8"/>
<ellipse cx="307.00" cy="74.40" rx="5.0" ry="1.8" fill="#ff4a4a" fill-opacity="0.8"/>
<ellipse cx="317.00" cy="79.30" rx="5.0" ry="1.8" fill="#ff4a4a" fill-opacity="0.8"/>
<ellipse cx="317.00" cy="90.00" rx="5.0" ry="1.8" fill="#ff4a4a" fill-opacity="0.8"/>
<ellipse cx="306.70" cy="104.80" rx="5.0" ry="1.8" fill="#ff4a4a" fill-opacity="0.8"/>
<ellipse cx="297.30" cy="109.70" rx="5.0" ry="1.8" fill="#ff4a4a" fill-opacity="0.8"/>
<ellipse cx="297.30" cy="119.70" rx="5.0" ry="1.8" fill="#ff4a4a" fill-opacity="0.8"/>
<ellipse cx="239.60" cy="139.80" rx="5.0" ry="1.8" fill="#ff4a4a" fill-opacity="0.8"/>
<ellipse cx="230.00" cy="134.80" rx="5.0" ry="1.8" fill="#ff4a4a" fill-opacity="0.8"/>
<ellipse cx="258.70" cy="88.30" rx="5.0" ry="1.8" fill="#ff4a4a" fill-opacity="0.8"/>
<ellipse cx="228.6" cy="125.0" rx="4.2" ry="1.7" fill="#ff4a4a" fill-opacity="0.8"/>
<line x1="47.50" y1="78.20" x2="55.30" y2="74.70" stroke="#0d0d0d" stroke-width="0.95"/>
<line x1="55.30" y1="74.70" x2="65.00" y2="79.70" stroke="#0d0d0d" stroke-width="0.95"/>
<line x1="56.04" y1="77.56" x2="62.25" y2="80.76" stroke="#0d0d0d" stroke-width="0.95"/>
<line x1="65.00" y1="79.70" x2="75.30" y2="74.70" stroke="#0d0d0d" stroke-width="0.95"/>
<line x1="75.30" y1="74.70" x2="84.70" y2="79.70" stroke="#0d0d0d" stroke-width="0.95"/>
<line x1="75.96" y1="77.54" x2="81.97" y2="80.74" stroke="#0d0d0d" stroke-width="0.95"/>
<line x1="84.70" y1="79.70" x2="94.70" y2="74.70" stroke="#0d0d0d" stroke-width="0.95"/>
<line x1="94.70" y1="74.70" x2="104.00" y2="79.70" stroke="#0d0d0d" stroke-width="0.95"/>
<line x1="104.00" y1="79.70" x2="114.00" y2="74.70" stroke="#0d0d0d" stroke-width="0.95"/>
<line x1="114.00" y1="74.70" x2="123.30" y2="79.50" stroke="#0d0d0d" stroke-width="0.95"/>
<line x1="123.30" y1="79.50" x2="132.80" y2="74.40" stroke="#0d0d0d" stroke-width="0.95"/>
<line x1="132.80" y1="74.40" x2="142.90" y2="79.50" stroke="#0d0d0d" stroke-width="0.95"/>
<line x1="142.90" y1="79.50" x2="152.50" y2="74.40" stroke="#0d0d0d" stroke-width="0.95"/>
<line x1="152.50" y1="74.40" x2="162.10" y2="79.50" stroke="#0d0d0d" stroke-width="0.95"/>
<line x1="162.10" y1="79.50" x2="171.70" y2="74.40" stroke="#0d0d0d" stroke-width="0.95"/>
<line x1="171.70" y1="74.40" x2="180.80" y2="79.50" stroke="#0d0d0d" stroke-width="0.95"/>
<line x1="172.26" y1="77.24" x2="178.09" y2="80.50" stroke="#0d0d0d" stroke-width="0.95"/>
<line x1="180.80" y1="79.50" x2="191.00" y2="74.40" stroke="#0d0d0d" stroke-width="0.95"/>
<line x1="191.00" y1="74.40" x2="200.30" y2="79.30" stroke="#0d0d0d" stroke-width="0.95"/>
<line x1="200.30" y1="79.30" x2="210.00" y2="74.40" stroke="#0d0d0d" stroke-width="0.95"/>
<line x1="210.00" y1="74.40" x2="220.00" y2="79.30" stroke="#0d0d0d" stroke-width="0.95"/>
<line x1="220.00" y1="79.30" x2="230.00" y2="74.40" stroke="#0d0d0d" stroke-width="0.95"/>
<line x1="210.00" y1="74.40" x2="210.00" y2="64.20" stroke="#0d0d0d" stroke-width="0.95"/>
<line x1="210.00" y1="64.20" x2="220.00" y2="59.30" stroke="#0d0d0d" stroke-width="0.95"/>
<line x1="220.00" y1="59.30" x2="230.00" y2="64.20" stroke="#0d0d0d" stroke-width="0.95"/>
<line x1="230.00" y1="64.20" x2="230.00" y2="74.40" stroke="#0d0d0d" stroke-width="0.95"/>
<line x1="230.00" y1="74.40" x2="239.80" y2="79.30" stroke="#0d0d0d" stroke-width="0.95"/>
<line x1="239.80" y1="79.30" x2="249.30" y2="74.40" stroke="#0d0d0d" stroke-width="0.95"/>
<line x1="249.30" y1="74.40" x2="258.70" y2="79.30" stroke="#0d0d0d" stroke-width="0.95"/>
<line x1="258.70" y1="79.30" x2="268.00" y2="74.40" stroke="#0d0d0d" stroke-width="0.95"/>
<line x1="268.00" y1="74.40" x2="277.60" y2="79.00" stroke="#0d0d0d" stroke-width="0.95"/>
<line x1="277.60" y1="79.00" x2="287.30" y2="75.00" stroke="#0d0d0d" stroke-width="0.95"/>
<line x1="287.30" y1="75.00" x2="296.70" y2="79.30" stroke="#0d0d0d" stroke-width="0.95"/>
<line x1="296.70" y1="79.30" x2="307.00" y2="74.40" stroke="#0d0d0d" stroke-width="0.95"/>
<line x1="307.00" y1="74.40" x2="317.00" y2="79.30" stroke="#0d0d0d" stroke-width="0.95"/>
<line x1="317.00" y1="79.30" x2="317.00" y2="90.00" stroke="#0d0d0d" stroke-width="0.95"/>
<line x1="317.00" y1="90.00" x2="307.00" y2="94.50" stroke="#0d0d0d" stroke-width="0.95"/>
<line x1="307.00" y1="94.50" x2="297.20" y2="90.00" stroke="#0d0d0d" stroke-width="0.95"/>
<line x1="297.20" y1="90.00" x2="296.70" y2="79.30" stroke="#0d0d0d" stroke-width="0.95"/>
<line x1="307.00" y1="94.50" x2="306.70" y2="104.80" stroke="#0d0d0d" stroke-width="0.95"/>
<line x1="306.70" y1="104.80" x2="297.30" y2="109.70" stroke="#0d0d0d" stroke-width="0.95"/>
<line x1="297.30" y1="109.70" x2="297.30" y2="119.70" stroke="#0d0d0d" stroke-width="0.95"/>
<line x1="297.30" y1="119.70" x2="288.00" y2="124.80" stroke="#0d0d0d" stroke-width="0.95"/>
<line x1="288.00" y1="124.80" x2="288.00" y2="134.80" stroke="#0d0d0d" stroke-width="0.95"/>
<line x1="288.00" y1="134.80" x2="278.70" y2="139.80" stroke="#0d0d0d" stroke-width="0.95"/>
<line x1="278.70" y1="139.80" x2="269.30" y2="134.80" stroke="#0d0d0d" stroke-width="0.95"/>
<line x1="269.30" y1="134.80" x2="258.80" y2="139.80" stroke="#0d0d0d" stroke-width="0.95"/>
<line x1="258.80" y1="139.80" x2="249.20" y2="134.80" stroke="#0d0d0d" stroke-width="0.95"/>
<line x1="249.20" y1="134.80" x2="239.60" y2="139.80" stroke="#0d0d0d" stroke-width="0.95"/>
<line x1="239.60" y1="139.80" x2="230.00" y2="134.80" stroke="#0d0d0d" stroke-width="0.95"/>
<line x1="230.00" y1="134.80" x2="220.40" y2="139.80" stroke="#0d0d0d" stroke-width="0.95"/>
<line x1="220.40" y1="139.80" x2="210.80" y2="134.80" stroke="#0d0d0d" stroke-width="0.95"/>
<line x1="210.80" y1="134.80" x2="201.80" y2="139.80" stroke="#0d0d0d" stroke-width="0.95"/>
<line x1="201.80" y1="139.80" x2="191.60" y2="134.80" stroke="#0d0d0d" stroke-width="0.95"/>
<line x1="191.60" y1="134.80" x2="181.40" y2="139.80" stroke="#0d0d0d" stroke-width="0.95"/>
<line x1="181.40" y1="139.80" x2="171.80" y2="134.80" stroke="#0d0d0d" stroke-width="0.95"/>
<line x1="171.80" y1="134.80" x2="162.20" y2="139.80" stroke="#0d0d0d" stroke-width="0.95"/>
<line x1="162.20" y1="139.80" x2="152.60" y2="134.80" stroke="#0d0d0d" stroke-width="0.95"/>
<line x1="152.60" y1="134.80" x2="143.00" y2="139.80" stroke="#0d0d0d" stroke-width="0.95"/>
<line x1="143.00" y1="139.80" x2="133.40" y2="134.80" stroke="#0d0d0d" stroke-width="0.95"/>
<line x1="133.40" y1="134.80" x2="124.40" y2="139.80" stroke="#0d0d0d" stroke-width="0.95"/>
<line x1="124.40" y1="139.80" x2="113.80" y2="134.80" stroke="#0d0d0d" stroke-width="0.95"/>
<line x1="113.80" y1="134.80" x2="104.00" y2="139.80" stroke="#0d0d0d" stroke-width="0.95"/>
<line x1="104.00" y1="139.80" x2="94.70" y2="134.80" stroke="#0d0d0d" stroke-width="0.95"/>
<line x1="94.70" y1="134.80" x2="84.70" y2="139.80" stroke="#0d0d0d" stroke-width="0.95"/>
<line x1="84.70" y1="139.80" x2="74.70" y2="134.80" stroke="#0d0d0d" stroke-width="0.95"/>
<line x1="74.70" y1="134.80" x2="65.30" y2="139.80" stroke="#0d0d0d" stroke-width="0.95"/>
<line x1="65.30" y1="139.80" x2="55.30" y2="134.80" stroke="#0d0d0d" stroke-width="0.95"/>
<line x1="55.30" y1="134.80" x2="46.00" y2="139.80" stroke="#0d0d0d" stroke-width="0.95"/>
<line x1="46.00" y1="139.80" x2="36.00" y2="134.80" stroke="#0d0d0d" stroke-width="0.95"/>
<line x1="258.70" y1="79.30" x2="258.70" y2="88.30" stroke="#0d0d0d" stroke-width="0.95"/>
<line x1="256.90" y1="79.30" x2="256.90" y2="88.30" stroke="#0d0d0d" stroke-width="0.95"/>
<line x1="84.70" y1="139.80" x2="84.70" y2="148.20" stroke="#0d0d0d" stroke-width="0.95"/>
<line x1="82.90" y1="139.80" x2="82.90" y2="148.20" stroke="#0d0d0d" stroke-width="0.95"/>
<line x1="190.99" y1="72.83" x2="191.71" y2="73.00" stroke="#0d0d0d" stroke-width="0.95"/>
<line x1="190.97" y1="71.25" x2="192.42" y2="71.59" stroke="#0d0d0d" stroke-width="0.95"/>
<line x1="190.96" y1="69.68" x2="193.13" y2="70.19" stroke="#0d0d0d" stroke-width="0.95"/>
<line x1="190.95" y1="68.11" x2="193.84" y2="68.79" stroke="#0d0d0d" stroke-width="0.95"/>
<text x="193.80" y="67.60" font-size="7.6" text-anchor="middle" font-weight="normal" fill="#fff" stroke="#fff" stroke-width="1.6" stroke-linejoin="round">OH</text>
<text x="193.80" y="67.60" font-size="7.6" text-anchor="middle" font-weight="normal" fill="#000" stroke="#000" stroke-width="0.22">OH</text>
<line x1="200.94" y1="80.67" x2="200.21" y2="80.81" stroke="#0d0d0d" stroke-width="0.95"/>
<line x1="201.59" y1="82.04" x2="200.13" y2="82.33" stroke="#0d0d0d" stroke-width="0.95"/>
<line x1="202.23" y1="83.41" x2="200.04" y2="83.84" stroke="#0d0d0d" stroke-width="0.95"/>
<line x1="202.88" y1="84.78" x2="199.96" y2="85.35" stroke="#0d0d0d" stroke-width="0.95"/>
<text x="203.60" y="93.00" font-size="7.6" text-anchor="middle" font-weight="normal" fill="#fff" stroke="#fff" stroke-width="1.6" stroke-linejoin="round">OH</text>
<text x="203.60" y="93.00" font-size="7.6" text-anchor="middle" font-weight="normal" fill="#000" stroke="#000" stroke-width="0.22">OH</text>
<polygon points="210.00,74.40 208.85,80.87 211.75,80.73" fill="#0d0d0d"/>
<text x="211.00" y="88.00" font-size="7.6" text-anchor="middle" font-weight="normal" fill="#fff" stroke="#fff" stroke-width="1.6" stroke-linejoin="round">H</text>
<text x="211.00" y="88.00" font-size="7.6" text-anchor="middle" font-weight="normal" fill="#000" stroke="#000" stroke-width="0.22">H</text>
<line x1="230.37" y1="75.89" x2="229.63" y2="75.89" stroke="#0d0d0d" stroke-width="0.95"/>
<line x1="230.74" y1="77.38" x2="229.26" y2="77.38" stroke="#0d0d0d" stroke-width="0.95"/>
<line x1="231.12" y1="78.87" x2="228.88" y2="78.87" stroke="#0d0d0d" stroke-width="0.95"/>
<line x1="231.49" y1="80.35" x2="228.51" y2="80.35" stroke="#0d0d0d" stroke-width="0.95"/>
<text x="229.70" y="88.00" font-size="7.6" text-anchor="middle" font-weight="normal" fill="#fff" stroke="#fff" stroke-width="1.6" stroke-linejoin="round">H</text>
<text x="229.70" y="88.00" font-size="7.6" text-anchor="middle" font-weight="normal" fill="#000" stroke="#000" stroke-width="0.22">H</text>
<polygon points="210.00,64.20 203.23,58.55 201.77,61.05" fill="#0d0d0d"/>
<text x="198.50" y="62.60" font-size="7.6" text-anchor="middle" font-weight="normal" fill="#fff" stroke="#fff" stroke-width="1.6" stroke-linejoin="round">HO</text>
<text x="198.50" y="62.60" font-size="7.6" text-anchor="middle" font-weight="normal" fill="#000" stroke="#000" stroke-width="0.22">HO</text>
<polygon points="220.00,59.30 221.45,53.20 218.55,53.20" fill="#0d0d0d"/>
<text x="222.30" y="52.00" font-size="7.6" text-anchor="middle" font-weight="normal" fill="#fff" stroke="#fff" stroke-width="1.6" stroke-linejoin="round">OH</text>
<text x="222.30" y="52.00" font-size="7.6" text-anchor="middle" font-weight="normal" fill="#000" stroke="#000" stroke-width="0.22">OH</text>
<polygon points="230.00,64.20 236.86,60.97 235.14,58.63" fill="#0d0d0d"/>
<text x="239.50" y="62.60" font-size="7.6" text-anchor="middle" font-weight="normal" fill="#fff" stroke="#fff" stroke-width="1.6" stroke-linejoin="round">H</text>
<text x="239.50" y="62.60" font-size="7.6" text-anchor="middle" font-weight="normal" fill="#000" stroke="#000" stroke-width="0.22">H</text>
<line x1="240.44" y1="80.67" x2="239.71" y2="80.81" stroke="#0d0d0d" stroke-width="0.95"/>
<line x1="241.09" y1="82.04" x2="239.63" y2="82.33" stroke="#0d0d0d" stroke-width="0.95"/>
<line x1="241.73" y1="83.41" x2="239.54" y2="83.84" stroke="#0d0d0d" stroke-width="0.95"/>
<line x1="242.38" y1="84.78" x2="239.46" y2="85.35" stroke="#0d0d0d" stroke-width="0.95"/>
<text x="242.40" y="93.00" font-size="7.6" text-anchor="middle" font-weight="normal" fill="#fff" stroke="#fff" stroke-width="1.6" stroke-linejoin="round">OH</text>
<text x="242.40" y="93.00" font-size="7.6" text-anchor="middle" font-weight="normal" fill="#000" stroke="#000" stroke-width="0.22">OH</text>
<polygon points="249.30,74.40 251.93,68.06 249.07,67.54" fill="#0d0d0d"/>
<text x="252.00" y="67.30" font-size="7.6" text-anchor="middle" font-weight="normal" fill="#fff" stroke="#fff" stroke-width="1.6" stroke-linejoin="round">OH</text>
<text x="252.00" y="67.30" font-size="7.6" text-anchor="middle" font-weight="normal" fill="#000" stroke="#000" stroke-width="0.22">OH</text>
<line x1="287.33" y1="73.28" x2="288.06" y2="73.46" stroke="#0d0d0d" stroke-width="0.95"/>
<line x1="287.37" y1="71.57" x2="288.81" y2="71.92" stroke="#0d0d0d" stroke-width="0.95"/>
<line x1="287.40" y1="69.85" x2="289.57" y2="70.38" stroke="#0d0d0d" stroke-width="0.95"/>
<line x1="287.44" y1="68.14" x2="290.33" y2="68.84" stroke="#0d0d0d" stroke-width="0.95"/>
<text x="290.50" y="67.80" font-size="7.6" text-anchor="middle" font-weight="normal" fill="#fff" stroke="#fff" stroke-width="1.6" stroke-linejoin="round">OH</text>
<text x="290.50" y="67.80" font-size="7.6" text-anchor="middle" font-weight="normal" fill="#000" stroke="#000" stroke-width="0.22">OH</text>
<polygon points="296.70,79.30 298.65,71.59 295.75,71.41" fill="#0d0d0d"/>
<text x="298.50" y="72.00" font-size="7.6" text-anchor="middle" font-weight="normal" fill="#fff" stroke="#fff" stroke-width="1.6" stroke-linejoin="round">H</text>
<text x="298.50" y="72.00" font-size="7.6" text-anchor="middle" font-weight="normal" fill="#000" stroke="#000" stroke-width="0.22">H</text>
<polygon points="307.00,74.40 309.91,68.12 307.09,67.48" fill="#0d0d0d"/>
<text x="310.50" y="67.80" font-size="7.6" text-anchor="middle" font-weight="normal" fill="#fff" stroke="#fff" stroke-width="1.6" stroke-linejoin="round">OH</text>
<text x="310.50" y="67.80" font-size="7.6" text-anchor="middle" font-weight="normal" fill="#000" stroke="#000" stroke-width="0.22">OH</text>
<line x1="318.13" y1="78.38" x2="318.43" y2="79.06" stroke="#0d0d0d" stroke-width="0.95"/>
<line x1="319.25" y1="77.46" x2="319.87" y2="78.81" stroke="#0d0d0d" stroke-width="0.95"/>
<line x1="320.38" y1="76.54" x2="321.30" y2="78.57" stroke="#0d0d0d" stroke-width="0.95"/>
<line x1="321.50" y1="75.62" x2="322.73" y2="78.33" stroke="#0d0d0d" stroke-width="0.95"/>
<text x="328.80" y="78.00" font-size="7.6" text-anchor="middle" font-weight="normal" fill="#fff" stroke="#fff" stroke-width="1.6" stroke-linejoin="round">OH</text>
<text x="328.80" y="78.00" font-size="7.6" text-anchor="middle" font-weight="normal" fill="#000" stroke="#000" stroke-width="0.22">OH</text>
<line x1="318.41" y1="90.12" x2="318.15" y2="90.81" stroke="#0d0d0d" stroke-width="0.95"/>
<line x1="319.81" y1="90.23" x2="319.30" y2="91.63" stroke="#0d0d0d" stroke-width="0.95"/>
<line x1="321.22" y1="90.35" x2="320.46" y2="92.44" stroke="#0d0d0d" stroke-width="0.95"/>
<line x1="322.62" y1="90.46" x2="321.61" y2="93.26" stroke="#0d0d0d" stroke-width="0.95"/>
<text x="328.80" y="97.40" font-size="7.6" text-anchor="middle" font-weight="normal" fill="#fff" stroke="#fff" stroke-width="1.6" stroke-linejoin="round">OH</text>
<text x="328.80" y="97.40" font-size="7.6" text-anchor="middle" font-weight="normal" fill="#000" stroke="#000" stroke-width="0.22">OH</text>
<polygon points="307.00,94.50 311.72,99.22 313.28,96.78" fill="#0d0d0d"/>
<text x="316.30" y="103.30" font-size="7.6" text-anchor="middle" font-weight="normal" fill="#fff" stroke="#fff" stroke-width="1.6" stroke-linejoin="round">H</text>
<text x="316.30" y="103.30" font-size="7.6" text-anchor="middle" font-weight="normal" fill="#000" stroke="#000" stroke-width="0.22">H</text>
<line x1="295.67" y1="109.29" x2="296.00" y2="108.62" stroke="#0d0d0d" stroke-width="0.95"/>
<line x1="294.03" y1="108.88" x2="294.71" y2="107.55" stroke="#0d0d0d" stroke-width="0.95"/>
<line x1="292.40" y1="108.46" x2="293.41" y2="106.47" stroke="#0d0d0d" stroke-width="0.95"/>
<line x1="290.77" y1="108.05" x2="292.11" y2="105.40" stroke="#0d0d0d" stroke-width="0.95"/>
<text x="286.00" y="107.60" font-size="7.6" text-anchor="middle" font-weight="normal" fill="#fff" stroke="#fff" stroke-width="1.6" stroke-linejoin="round">HO</text>
<text x="286.00" y="107.60" font-size="7.6" text-anchor="middle" font-weight="normal" fill="#000" stroke="#000" stroke-width="0.22">HO</text>
<line x1="298.92" y1="120.14" x2="298.57" y2="120.80" stroke="#0d0d0d" stroke-width="0.95"/>
<line x1="300.53" y1="120.58" x2="299.83" y2="121.89" stroke="#0d0d0d" stroke-width="0.95"/>
<line x1="302.15" y1="121.02" x2="301.10" y2="122.99" stroke="#0d0d0d" stroke-width="0.95"/>
<line x1="303.77" y1="121.46" x2="302.37" y2="124.08" stroke="#0d0d0d" stroke-width="0.95"/>
<text x="309.60" y="128.40" font-size="7.6" text-anchor="middle" font-weight="normal" fill="#fff" stroke="#fff" stroke-width="1.6" stroke-linejoin="round">OH</text>
<text x="309.60" y="128.40" font-size="7.6" text-anchor="middle" font-weight="normal" fill="#000" stroke="#000" stroke-width="0.22">OH</text>
<polygon points="288.00,124.80 282.16,120.21 280.84,122.79" fill="#0d0d0d"/>
<text x="274.30" y="123.20" font-size="7.6" text-anchor="middle" font-weight="normal" fill="#fff" stroke="#fff" stroke-width="1.6" stroke-linejoin="round">H<tspan font-size="5" dy="1.5">3</tspan><tspan dy="-1.5">C</tspan></text>
<text x="274.30" y="123.20" font-size="7.6" text-anchor="middle" font-weight="normal" fill="#000" stroke="#000" stroke-width="0.22">H<tspan font-size="5" dy="1.5">3</tspan><tspan dy="-1.5">C</tspan></text>
<line x1="36.00" y1="134.80" x2="30.50" y2="138.80" stroke="#0d0d0d" stroke-width="0.95"/>
<text x="24.00" y="142.80" font-size="7.6" text-anchor="middle" font-weight="normal" fill="#fff" stroke="#fff" stroke-width="1.6" stroke-linejoin="round">HO</text>
<text x="24.00" y="142.80" font-size="7.6" text-anchor="middle" font-weight="normal" fill="#000" stroke="#000" stroke-width="0.22">HO</text>
<polygon points="46.00,139.80 44.55,146.00 47.45,146.00" fill="#0d0d0d"/>
<text x="46.50" y="153.60" font-size="7.6" text-anchor="middle" font-weight="normal" fill="#fff" stroke="#fff" stroke-width="1.6" stroke-linejoin="round">OH</text>
<text x="46.50" y="153.60" font-size="7.6" text-anchor="middle" font-weight="normal" fill="#000" stroke="#000" stroke-width="0.22">OH</text>
<polygon points="124.40,139.80 124.07,146.25 126.93,145.75" fill="#0d0d0d"/>
<text x="127.00" y="154.00" font-size="7.6" text-anchor="middle" font-weight="normal" fill="#fff" stroke="#fff" stroke-width="1.6" stroke-linejoin="round">OH</text>
<text x="127.00" y="154.00" font-size="7.6" text-anchor="middle" font-weight="normal" fill="#000" stroke="#000" stroke-width="0.22">OH</text>
<polygon points="162.20,139.80 162.08,146.30 164.92,145.70" fill="#0d0d0d"/>
<text x="165.00" y="154.00" font-size="7.6" text-anchor="middle" font-weight="normal" fill="#fff" stroke="#fff" stroke-width="1.6" stroke-linejoin="round">OH</text>
<text x="165.00" y="154.00" font-size="7.6" text-anchor="middle" font-weight="normal" fill="#000" stroke="#000" stroke-width="0.22">OH</text>
<line x1="182.35" y1="141.10" x2="181.66" y2="141.39" stroke="#0d0d0d" stroke-width="0.95"/>
<line x1="183.30" y1="142.40" x2="181.92" y2="142.97" stroke="#0d0d0d" stroke-width="0.95"/>
<line x1="184.24" y1="143.69" x2="182.18" y2="144.56" stroke="#0d0d0d" stroke-width="0.95"/>
<line x1="185.19" y1="144.99" x2="182.45" y2="146.14" stroke="#0d0d0d" stroke-width="0.95"/>
<text x="187.50" y="154.00" font-size="7.6" text-anchor="middle" font-weight="normal" fill="#fff" stroke="#fff" stroke-width="1.6" stroke-linejoin="round">CH<tspan font-size="5" dy="1.5">3</tspan></text>
<text x="187.50" y="154.00" font-size="7.6" text-anchor="middle" font-weight="normal" fill="#000" stroke="#000" stroke-width="0.22">CH<tspan font-size="5" dy="1.5">3</tspan></text>
<polygon points="191.60,134.80 194.23,128.67 191.37,128.13" fill="#0d0d0d"/>
<text x="194.00" y="128.00" font-size="7.6" text-anchor="middle" font-weight="normal" fill="#fff" stroke="#fff" stroke-width="1.6" stroke-linejoin="round">OH</text>
<text x="194.00" y="128.00" font-size="7.6" text-anchor="middle" font-weight="normal" fill="#000" stroke="#000" stroke-width="0.22">OH</text>
<polygon points="201.80,139.80 201.37,146.23 204.23,145.77" fill="#0d0d0d"/>
<text x="204.00" y="154.00" font-size="7.6" text-anchor="middle" font-weight="normal" fill="#fff" stroke="#fff" stroke-width="1.6" stroke-linejoin="round">OH</text>
<text x="204.00" y="154.00" font-size="7.6" text-anchor="middle" font-weight="normal" fill="#000" stroke="#000" stroke-width="0.22">OH</text>
<line x1="230.23" y1="133.18" x2="230.93" y2="133.45" stroke="#0d0d0d" stroke-width="0.95"/>
<line x1="230.47" y1="131.55" x2="231.86" y2="132.09" stroke="#0d0d0d" stroke-width="0.95"/>
<line x1="230.70" y1="129.93" x2="232.78" y2="130.74" stroke="#0d0d0d" stroke-width="0.95"/>
<line x1="230.94" y1="128.30" x2="233.71" y2="129.39" stroke="#0d0d0d" stroke-width="0.95"/>
<text x="235.00" y="128.00" font-size="7.6" text-anchor="middle" font-weight="normal" fill="#fff" stroke="#fff" stroke-width="1.6" stroke-linejoin="round">CH<tspan font-size="5" dy="1.5">3</tspan></text>
<text x="235.00" y="128.00" font-size="7.6" text-anchor="middle" font-weight="normal" fill="#000" stroke="#000" stroke-width="0.22">CH<tspan font-size="5" dy="1.5">3</tspan></text>
<line x1="240.24" y1="141.17" x2="239.51" y2="141.31" stroke="#0d0d0d" stroke-width="0.95"/>
<line x1="240.89" y1="142.54" x2="239.43" y2="142.83" stroke="#0d0d0d" stroke-width="0.95"/>
<line x1="241.53" y1="143.91" x2="239.34" y2="144.34" stroke="#0d0d0d" stroke-width="0.95"/>
<line x1="242.18" y1="145.28" x2="239.26" y2="145.85" stroke="#0d0d0d" stroke-width="0.95"/>
<text x="242.50" y="154.00" font-size="7.6" text-anchor="middle" font-weight="normal" fill="#fff" stroke="#fff" stroke-width="1.6" stroke-linejoin="round">OH</text>
<text x="242.50" y="154.00" font-size="7.6" text-anchor="middle" font-weight="normal" fill="#000" stroke="#000" stroke-width="0.22">OH</text>
<polygon points="249.20,134.80 251.92,128.69 249.08,128.11" fill="#0d0d0d"/>
<text x="252.00" y="128.00" font-size="7.6" text-anchor="middle" font-weight="normal" fill="#fff" stroke="#fff" stroke-width="1.6" stroke-linejoin="round">OH</text>
<text x="252.00" y="128.00" font-size="7.6" text-anchor="middle" font-weight="normal" fill="#000" stroke="#000" stroke-width="0.22">OH</text>
<polygon points="258.80,139.80 258.58,146.28 261.42,145.72" fill="#0d0d0d"/>
<text x="261.50" y="154.00" font-size="7.6" text-anchor="middle" font-weight="normal" fill="#fff" stroke="#fff" stroke-width="1.6" stroke-linejoin="round">OH</text>
<text x="261.50" y="154.00" font-size="7.6" text-anchor="middle" font-weight="normal" fill="#000" stroke="#000" stroke-width="0.22">OH</text>
<circle cx="220.0" cy="79.3" r="3.6" fill="#fff"/><circle cx="297.2" cy="90.2" r="3.6" fill="#fff"/>
<text x="84.80" y="154.00" font-size="7.8" text-anchor="middle" font-weight="normal" fill="#fff" stroke="#fff" stroke-width="1.6" stroke-linejoin="round">O</text>
<text x="84.80" y="154.00" font-size="7.8" text-anchor="middle" font-weight="normal" fill="#000" stroke="#000" stroke-width="0.22">O</text>
<text x="220.00" y="82.20" font-size="8.0" text-anchor="middle" font-weight="normal" fill="#fff" stroke="#fff" stroke-width="1.6" stroke-linejoin="round">O</text>
<text x="220.00" y="82.20" font-size="8.0" text-anchor="middle" font-weight="normal" fill="#000" stroke="#000" stroke-width="0.22">O</text>
<text x="297.20" y="93.10" font-size="8.0" text-anchor="middle" font-weight="normal" fill="#fff" stroke="#fff" stroke-width="1.6" stroke-linejoin="round">O</text>
<text x="297.20" y="93.10" font-size="8.0" text-anchor="middle" font-weight="normal" fill="#000" stroke="#000" stroke-width="0.22">O</text>
<text x="42.50" y="81.30" font-size="7.6" text-anchor="middle" font-weight="normal" fill="#fff" stroke="#fff" stroke-width="1.6" stroke-linejoin="round">Cl</text>
<text x="42.50" y="81.30" font-size="7.6" text-anchor="middle" font-weight="normal" fill="#000" stroke="#000" stroke-width="0.22">Cl</text>
<text x="57.00" y="73.20" font-size="6.3" text-anchor="middle" font-weight="normal" fill="#000" stroke="#000" stroke-width="0.22">63</text>
<text x="83.50" y="89.30" font-size="6.3" text-anchor="middle" font-weight="normal" fill="#000" stroke="#000" stroke-width="0.22">60</text>
<text x="133.30" y="73.80" font-size="6.3" text-anchor="middle" font-weight="normal" fill="#000" stroke="#000" stroke-width="0.22">55</text>
<text x="172.30" y="73.00" font-size="6.3" text-anchor="middle" font-weight="normal" fill="#000" stroke="#000" stroke-width="0.22">51</text>
<text x="214.80" y="70.00" font-size="6.3" text-anchor="middle" font-weight="normal" fill="#000" stroke="#000" stroke-width="0.22">46</text>
<text x="225.30" y="70.00" font-size="6.3" text-anchor="middle" font-weight="normal" fill="#000" stroke="#000" stroke-width="0.22">44</text>
<text x="238.50" y="76.60" font-size="6.3" text-anchor="middle" font-weight="normal" fill="#000" stroke="#000" stroke-width="0.22">42</text>
<text x="278.50" y="76.00" font-size="6.3" text-anchor="middle" font-weight="normal" fill="#000" stroke="#000" stroke-width="0.22">38</text>
<text x="311.50" y="85.50" font-size="6.3" text-anchor="middle" font-weight="normal" fill="#000" stroke="#000" stroke-width="0.22">34</text>
<text x="303.50" y="115.50" font-size="6.3" text-anchor="middle" font-weight="normal" fill="#000" stroke="#000" stroke-width="0.22">30</text>
<text x="279.50" y="148.80" font-size="6.3" text-anchor="middle" font-weight="normal" fill="#000" stroke="#000" stroke-width="0.22">26</text>
<text x="239.30" y="137.50" font-size="6.3" text-anchor="middle" font-weight="normal" fill="#000" stroke="#000" stroke-width="0.22">22</text>
<text x="201.50" y="137.50" font-size="6.3" text-anchor="middle" font-weight="normal" fill="#000" stroke="#000" stroke-width="0.22">18</text>
<text x="162.40" y="137.50" font-size="6.3" text-anchor="middle" font-weight="normal" fill="#000" stroke="#000" stroke-width="0.22">14</text>
<text x="124.60" y="137.80" font-size="6.3" text-anchor="middle" font-weight="normal" fill="#000" stroke="#000" stroke-width="0.22">10</text>
<text x="95.20" y="133.30" font-size="6.3" text-anchor="middle" font-weight="normal" fill="#000" stroke="#000" stroke-width="0.22">7</text>
<text x="64.80" y="149.60" font-size="6.3" text-anchor="middle" font-weight="normal" fill="#000" stroke="#000" stroke-width="0.22">4</text>
<text x="36.30" y="132.40" font-size="6.3" text-anchor="middle" font-weight="normal" fill="#000" stroke="#000" stroke-width="0.22">1</text></g>
<text x="175.00" y="177.40" font-size="13.0" font-weight="normal" text-anchor="middle" fill="#111" textLength="312.00" lengthAdjust="spacingAndGlyphs" >Carbons highlighted in red exhibit a shift in the HSQC</text>
<text x="173.50" y="194.80" font-size="13.0" font-weight="normal" text-anchor="middle" fill="#111" textLength="326.00" lengthAdjust="spacingAndGlyphs" >resonances indicating a conformational change due to a</text>
<text x="174.00" y="211.60" font-size="13.0" font-weight="normal" text-anchor="middle" fill="#111" textLength="84.00" lengthAdjust="spacingAndGlyphs" >binding event.</text>
<g><line x1="216.00" y1="501.50" x2="225.09" y2="506.75" stroke="#2a2a2a" stroke-width="0.8" stroke-linecap="round"/>
<line x1="225.09" y1="506.75" x2="225.09" y2="517.25" stroke="#2a2a2a" stroke-width="0.8" stroke-linecap="round"/>
<line x1="225.09" y1="517.25" x2="216.00" y2="522.50" stroke="#2a2a2a" stroke-width="0.8" stroke-linecap="round"/>
<line x1="216.00" y1="522.50" x2="206.91" y2="517.25" stroke="#2a2a2a" stroke-width="0.8" stroke-linecap="round"/>
<line x1="206.91" y1="517.25" x2="206.91" y2="506.75" stroke="#2a2a2a" stroke-width="0.8" stroke-linecap="round"/>
<line x1="206.91" y1="506.75" x2="216.00" y2="501.50" stroke="#2a2a2a" stroke-width="0.8" stroke-linecap="round"/>
<line x1="234.19" y1="501.50" x2="243.28" y2="506.75" stroke="#2a2a2a" stroke-width="0.8" stroke-linecap="round"/>
<line x1="243.28" y1="506.75" x2="243.28" y2="517.25" stroke="#2a2a2a" stroke-width="0.8" stroke-linecap="round"/>
<line x1="243.28" y1="517.25" x2="234.19" y2="522.50" stroke="#2a2a2a" stroke-width="0.8" stroke-linecap="round"/>
<line x1="234.19" y1="522.50" x2="225.09" y2="517.25" stroke="#2a2a2a" stroke-width="0.8" stroke-linecap="round"/>
<line x1="225.09" y1="517.25" x2="225.09" y2="506.75" stroke="#2a2a2a" stroke-width="0.8" stroke-linecap="round"/>
<line x1="225.09" y1="506.75" x2="234.19" y2="501.50" stroke="#2a2a2a" stroke-width="0.8" stroke-linecap="round"/>
<line x1="243.28" y1="485.75" x2="252.37" y2="491.00" stroke="#2a2a2a" stroke-width="0.8" stroke-linecap="round"/>
<line x1="252.37" y1="491.00" x2="252.37" y2="501.50" stroke="#2a2a2a" stroke-width="0.8" stroke-linecap="round"/>
<line x1="252.37" y1="501.50" x2="243.28" y2="506.75" stroke="#2a2a2a" stroke-width="0.8" stroke-linecap="round"/>
<line x1="243.28" y1="506.75" x2="234.19" y2="501.50" stroke="#2a2a2a" stroke-width="0.8" stroke-linecap="round"/>
<line x1="234.19" y1="501.50" x2="234.19" y2="491.00" stroke="#2a2a2a" stroke-width="0.8" stroke-linecap="round"/>
<line x1="234.19" y1="491.00" x2="243.28" y2="485.75" stroke="#2a2a2a" stroke-width="0.8" stroke-linecap="round"/>
<line x1="252.37" y1="491.00" x2="262.36" y2="487.76" stroke="#2a2a2a" stroke-width="0.8" stroke-linecap="round"/>
<line x1="262.36" y1="487.76" x2="268.53" y2="496.25" stroke="#2a2a2a" stroke-width="0.8" stroke-linecap="round"/>
<line x1="268.53" y1="496.25" x2="262.36" y2="504.74" stroke="#2a2a2a" stroke-width="0.8" stroke-linecap="round"/>
<line x1="262.36" y1="504.74" x2="252.37" y2="501.50" stroke="#2a2a2a" stroke-width="0.8" stroke-linecap="round"/>
<polygon points="206.91,517.25 200.59,519.57 201.81,521.63" fill="#2a2a2a"/>
<text x="194.50" y="525.30" font-size="6.6" text-anchor="middle" fill="#111" stroke="#111" stroke-width="0.15">HO</text>
<line x1="216.50" y1="524.62" x2="215.50" y2="524.62" stroke="#2a2a2a" stroke-width="0.7" stroke-linecap="round"/>
<line x1="216.50" y1="526.73" x2="215.50" y2="526.73" stroke="#2a2a2a" stroke-width="0.7" stroke-linecap="round"/>
<line x1="216.75" y1="528.85" x2="215.25" y2="528.85" stroke="#2a2a2a" stroke-width="0.7" stroke-linecap="round"/>
<line x1="217.00" y1="530.96" x2="215.00" y2="530.96" stroke="#2a2a2a" stroke-width="0.7" stroke-linecap="round"/>
<line x1="217.25" y1="533.08" x2="214.75" y2="533.08" stroke="#2a2a2a" stroke-width="0.7" stroke-linecap="round"/>
<line x1="225.59" y1="519.05" x2="224.59" y2="519.05" stroke="#2a2a2a" stroke-width="0.7" stroke-linecap="round"/>
<line x1="225.91" y1="520.84" x2="224.28" y2="520.84" stroke="#2a2a2a" stroke-width="0.7" stroke-linecap="round"/>
<line x1="226.31" y1="522.64" x2="223.87" y2="522.64" stroke="#2a2a2a" stroke-width="0.7" stroke-linecap="round"/>
<text x="226.30" y="529.80" font-size="6.6" text-anchor="middle" fill="#111" stroke="#111" stroke-width="0.15">H</text>
<polygon points="225.09,506.75 226.09,497.50 224.09,497.50" fill="#2a2a2a"/>
<line x1="234.69" y1="503.38" x2="233.69" y2="503.38" stroke="#2a2a2a" stroke-width="0.7" stroke-linecap="round"/>
<line x1="235.00" y1="505.25" x2="233.37" y2="505.25" stroke="#2a2a2a" stroke-width="0.7" stroke-linecap="round"/>
<line x1="235.41" y1="507.12" x2="232.97" y2="507.12" stroke="#2a2a2a" stroke-width="0.7" stroke-linecap="round"/>
<text x="234.50" y="514.50" font-size="6.6" text-anchor="middle" fill="#111" stroke="#111" stroke-width="0.15">H</text>
<polygon points="243.28,506.75 244.28,500.00 242.28,500.00" fill="#2a2a2a"/>
<text x="244.00" y="498.50" font-size="6.6" text-anchor="middle" fill="#111" stroke="#111" stroke-width="0.15">H</text>
<line x1="252.87" y1="503.38" x2="251.87" y2="503.38" stroke="#2a2a2a" stroke-width="0.7" stroke-linecap="round"/>
<line x1="253.19" y1="505.25" x2="251.56" y2="505.25" stroke="#2a2a2a" stroke-width="0.7" stroke-linecap="round"/>
<line x1="253.59" y1="507.12" x2="251.15" y2="507.12" stroke="#2a2a2a" stroke-width="0.7" stroke-linecap="round"/>
<text x="254.00" y="514.50" font-size="6.6" text-anchor="middle" fill="#111" stroke="#111" stroke-width="0.15">H</text>
<polygon points="252.37,491.00 253.37,480.50 251.37,480.50" fill="#2a2a2a"/>
<line x1="264.10" y1="486.96" x2="264.26" y2="487.95" stroke="#2a2a2a" stroke-width="0.7" stroke-linecap="round"/>
<line x1="265.90" y1="486.55" x2="266.10" y2="487.77" stroke="#2a2a2a" stroke-width="0.7" stroke-linecap="round"/>
<line x1="267.67" y1="485.94" x2="267.97" y2="487.77" stroke="#2a2a2a" stroke-width="0.7" stroke-linecap="round"/>
<line x1="269.44" y1="485.34" x2="269.84" y2="487.78" stroke="#2a2a2a" stroke-width="0.7" stroke-linecap="round"/>
<text x="275.50" y="489.00" font-size="6.6" text-anchor="middle" fill="#111" stroke="#111" stroke-width="0.15">H</text>
<line x1="262.36" y1="487.76" x2="266.50" y2="476.50" stroke="#2a2a2a" stroke-width="0.8" stroke-linecap="round"/>
<line x1="264.79" y1="475.01" x2="265.59" y2="474.42" stroke="#2a2a2a" stroke-width="0.7" stroke-linecap="round"/>
<line x1="263.38" y1="473.29" x2="264.38" y2="472.56" stroke="#2a2a2a" stroke-width="0.7" stroke-linecap="round"/>
<line x1="261.82" y1="471.69" x2="263.32" y2="470.59" stroke="#2a2a2a" stroke-width="0.7" stroke-linecap="round"/>
<line x1="260.26" y1="470.09" x2="262.26" y2="468.62" stroke="#2a2a2a" stroke-width="0.7" stroke-linecap="round"/>
<line x1="266.50" y1="476.50" x2="276.00" y2="472.00" stroke="#2a2a2a" stroke-width="0.8" stroke-linecap="round"/>
<line x1="276.00" y1="472.00" x2="285.50" y2="477.00" stroke="#2a2a2a" stroke-width="0.8" stroke-linecap="round"/>
<line x1="276.59" y1="474.34" x2="283.24" y2="477.84" stroke="#2a2a2a" stroke-width="0.8" stroke-linecap="round"/>
<line x1="285.50" y1="477.00" x2="286.00" y2="487.50" stroke="#2a2a2a" stroke-width="0.8" stroke-linecap="round"/>
<line x1="285.50" y1="477.00" x2="295.50" y2="472.00" stroke="#2a2a2a" stroke-width="0.8" stroke-linecap="round"/>
<line x1="295.12" y1="469.48" x2="296.12" y2="469.52" stroke="#2a2a2a" stroke-width="0.7" stroke-linecap="round"/>
<line x1="295.12" y1="466.97" x2="296.36" y2="467.03" stroke="#2a2a2a" stroke-width="0.7" stroke-linecap="round"/>
<line x1="294.93" y1="464.46" x2="296.78" y2="464.54" stroke="#2a2a2a" stroke-width="0.7" stroke-linecap="round"/>
<line x1="294.74" y1="461.94" x2="297.21" y2="462.06" stroke="#2a2a2a" stroke-width="0.7" stroke-linecap="round"/>
<line x1="295.50" y1="472.00" x2="305.00" y2="477.00" stroke="#2a2a2a" stroke-width="0.8" stroke-linecap="round"/>
<line x1="305.00" y1="477.00" x2="314.00" y2="472.00" stroke="#2a2a2a" stroke-width="0.8" stroke-linecap="round"/>
<line x1="305.00" y1="477.00" x2="305.00" y2="487.50" stroke="#2a2a2a" stroke-width="0.8" stroke-linecap="round"/>
<line x1="398.00" y1="504.20" x2="407.35" y2="509.60" stroke="#2a2a2a" stroke-width="0.8" stroke-linecap="round"/>
<line x1="407.35" y1="509.60" x2="407.35" y2="520.40" stroke="#2a2a2a" stroke-width="0.8" stroke-linecap="round"/>
<line x1="407.35" y1="520.40" x2="398.00" y2="525.80" stroke="#2a2a2a" stroke-width="0.8" stroke-linecap="round"/>
<line x1="398.00" y1="525.80" x2="388.65" y2="520.40" stroke="#2a2a2a" stroke-width="0.8" stroke-linecap="round"/>
<line x1="388.65" y1="520.40" x2="388.65" y2="509.60" stroke="#2a2a2a" stroke-width="0.8" stroke-linecap="round"/>
<line x1="388.65" y1="509.60" x2="398.00" y2="504.20" stroke="#2a2a2a" stroke-width="0.8" stroke-linecap="round"/>
<line x1="416.71" y1="504.20" x2="426.06" y2="509.60" stroke="#2a2a2a" stroke-width="0.8" stroke-linecap="round"/>
<line x1="426.06" y1="509.60" x2="426.06" y2="520.40" stroke="#2a2a2a" stroke-width="0.8" stroke-linecap="round"/>
<line x1="426.06" y1="520.40" x2="416.71" y2="525.80" stroke="#2a2a2a" stroke-width="0.8" stroke-linecap="round"/>
<line x1="416.71" y1="525.80" x2="407.35" y2="520.40" stroke="#2a2a2a" stroke-width="0.8" stroke-linecap="round"/>
<line x1="407.35" y1="520.40" x2="407.35" y2="509.60" stroke="#2a2a2a" stroke-width="0.8" stroke-linecap="round"/>
<line x1="407.35" y1="509.60" x2="416.71" y2="504.20" stroke="#2a2a2a" stroke-width="0.8" stroke-linecap="round"/>
<line x1="426.06" y1="488.00" x2="435.41" y2="493.40" stroke="#2a2a2a" stroke-width="0.8" stroke-linecap="round"/>
<line x1="435.41" y1="493.40" x2="435.41" y2="504.20" stroke="#2a2a2a" stroke-width="0.8" stroke-linecap="round"/>
<line x1="435.41" y1="504.20" x2="426.06" y2="509.60" stroke="#2a2a2a" stroke-width="0.8" stroke-linecap="round"/>
<line x1="426.06" y1="509.60" x2="416.71" y2="504.20" stroke="#2a2a2a" stroke-width="0.8" stroke-linecap="round"/>
<line x1="416.71" y1="504.20" x2="416.71" y2="493.40" stroke="#2a2a2a" stroke-width="0.8" stroke-linecap="round"/>
<line x1="416.71" y1="493.40" x2="426.06" y2="488.00" stroke="#2a2a2a" stroke-width="0.8" stroke-linecap="round"/>
<line x1="435.41" y1="493.40" x2="445.68" y2="490.06" stroke="#2a2a2a" stroke-width="0.8" stroke-linecap="round"/>
<line x1="445.68" y1="490.06" x2="452.03" y2="498.80" stroke="#2a2a2a" stroke-width="0.8" stroke-linecap="round"/>
<line x1="452.03" y1="498.80" x2="445.68" y2="507.54" stroke="#2a2a2a" stroke-width="0.8" stroke-linecap="round"/>
<line x1="445.68" y1="507.54" x2="435.41" y2="504.20" stroke="#2a2a2a" stroke-width="0.8" stroke-linecap="round"/>
<polygon points="388.65,520.40 381.14,523.28 382.46,525.52" fill="#2a2a2a"/>
<text x="377.00" y="528.30" font-size="5.2" text-anchor="middle" fill="#111" stroke="#111" stroke-width="0.15">HO</text>
<line x1="398.50" y1="527.38" x2="397.50" y2="527.38" stroke="#2a2a2a" stroke-width="0.7" stroke-linecap="round"/>
<line x1="398.50" y1="528.95" x2="397.50" y2="528.95" stroke="#2a2a2a" stroke-width="0.7" stroke-linecap="round"/>
<line x1="398.75" y1="530.53" x2="397.25" y2="530.53" stroke="#2a2a2a" stroke-width="0.7" stroke-linecap="round"/>
<line x1="399.00" y1="532.11" x2="397.00" y2="532.11" stroke="#2a2a2a" stroke-width="0.7" stroke-linecap="round"/>
<line x1="399.25" y1="533.68" x2="396.75" y2="533.68" stroke="#2a2a2a" stroke-width="0.7" stroke-linecap="round"/>
<polygon points="407.35,509.60 408.35,498.50 406.35,498.50" fill="#2a2a2a"/>
<line x1="417.21" y1="506.01" x2="416.21" y2="506.01" stroke="#2a2a2a" stroke-width="0.7" stroke-linecap="round"/>
<line x1="417.52" y1="507.82" x2="415.89" y2="507.82" stroke="#2a2a2a" stroke-width="0.7" stroke-linecap="round"/>
<line x1="417.92" y1="509.64" x2="415.49" y2="509.64" stroke="#2a2a2a" stroke-width="0.7" stroke-linecap="round"/>
<text x="417.20" y="517.00" font-size="5.5" text-anchor="middle" fill="#111" stroke="#111" stroke-width="0.15">H</text>
<line x1="426.09" y1="507.50" x2="433.58" y2="503.18" stroke="#2a2a2a" stroke-width="0.8" stroke-linecap="round"/>
<polygon points="435.41,493.40 436.41,482.00 434.41,482.00" fill="#2a2a2a"/>
<polygon points="445.68,490.06 452.11,477.97 449.89,477.03" fill="#2a2a2a"/>
<polygon points="451.00,477.50 444.22,470.17 442.78,471.83" fill="#2a2a2a"/>
<line x1="451.00" y1="477.50" x2="460.50" y2="473.00" stroke="#2a2a2a" stroke-width="0.8" stroke-linecap="round"/>
<line x1="460.50" y1="473.00" x2="464.50" y2="463.50" stroke="#2a2a2a" stroke-width="0.8" stroke-linecap="round"/>
<line x1="462.76" y1="472.27" x2="465.56" y2="465.62" stroke="#2a2a2a" stroke-width="0.8" stroke-linecap="round"/>
<line x1="464.50" y1="463.50" x2="475.50" y2="462.00" stroke="#2a2a2a" stroke-width="0.8" stroke-linecap="round"/>
<polygon points="475.50,462.00 479.07,451.75 476.93,451.25" fill="#2a2a2a"/>
<line x1="475.50" y1="462.00" x2="483.00" y2="469.50" stroke="#2a2a2a" stroke-width="0.8" stroke-linecap="round"/>
<line x1="483.00" y1="469.50" x2="480.50" y2="481.00" stroke="#2a2a2a" stroke-width="0.8" stroke-linecap="round"/>
<line x1="588.40" y1="504.20" x2="597.75" y2="509.60" stroke="#2a2a2a" stroke-width="0.8" stroke-linecap="round"/>
<line x1="597.75" y1="509.60" x2="597.75" y2="520.40" stroke="#2a2a2a" stroke-width="0.8" stroke-linecap="round"/>
<line x1="597.75" y1="520.40" x2="588.40" y2="525.80" stroke="#2a2a2a" stroke-width="0.8" stroke-linecap="round"/>
<line x1="588.40" y1="525.80" x2="579.05" y2="520.40" stroke="#2a2a2a" stroke-width="0.8" stroke-linecap="round"/>
<line x1="579.05" y1="520.40" x2="579.05" y2="509.60" stroke="#2a2a2a" stroke-width="0.8" stroke-linecap="round"/>
<line x1="579.05" y1="509.60" x2="588.40" y2="504.20" stroke="#2a2a2a" stroke-width="0.8" stroke-linecap="round"/>
<line x1="607.11" y1="504.20" x2="616.46" y2="509.60" stroke="#2a2a2a" stroke-width="0.8" stroke-linecap="round"/>
<line x1="616.46" y1="509.60" x2="616.46" y2="520.40" stroke="#2a2a2a" stroke-width="0.8" stroke-linecap="round"/>
<line x1="616.46" y1="520.40" x2="607.11" y2="525.80" stroke="#2a2a2a" stroke-width="0.8" stroke-linecap="round"/>
<line x1="607.11" y1="525.80" x2="597.75" y2="520.40" stroke="#2a2a2a" stroke-width="0.8" stroke-linecap="round"/>
<line x1="597.75" y1="520.40" x2="597.75" y2="509.60" stroke="#2a2a2a" stroke-width="0.8" stroke-linecap="round"/>
<line x1="597.75" y1="509.60" x2="607.11" y2="504.20" stroke="#2a2a2a" stroke-width="0.8" stroke-linecap="round"/>
<line x1="616.46" y1="488.00" x2="625.81" y2="493.40" stroke="#2a2a2a" stroke-width="0.8" stroke-linecap="round"/>
<line x1="625.81" y1="493.40" x2="625.81" y2="504.20" stroke="#2a2a2a" stroke-width="0.8" stroke-linecap="round"/>
<line x1="625.81" y1="504.20" x2="616.46" y2="509.60" stroke="#2a2a2a" stroke-width="0.8" stroke-linecap="round"/>
<line x1="616.46" y1="509.60" x2="607.11" y2="504.20" stroke="#2a2a2a" stroke-width="0.8" stroke-linecap="round"/>
<line x1="607.11" y1="504.20" x2="607.11" y2="493.40" stroke="#2a2a2a" stroke-width="0.8" stroke-linecap="round"/>
<line x1="607.11" y1="493.40" x2="616.46" y2="488.00" stroke="#2a2a2a" stroke-width="0.8" stroke-linecap="round"/>
<line x1="625.81" y1="493.40" x2="636.08" y2="490.06" stroke="#2a2a2a" stroke-width="0.8" stroke-linecap="round"/>
<line x1="636.08" y1="490.06" x2="642.43" y2="498.80" stroke="#2a2a2a" stroke-width="0.8" stroke-linecap="round"/>
<line x1="642.43" y1="498.80" x2="636.08" y2="507.54" stroke="#2a2a2a" stroke-width="0.8" stroke-linecap="round"/>
<line x1="636.08" y1="507.54" x2="625.81" y2="504.20" stroke="#2a2a2a" stroke-width="0.8" stroke-linecap="round"/>
<polygon points="579.05,520.40 573.14,522.38 574.46,524.62" fill="#2a2a2a"/>
<text x="567.50" y="528.30" font-size="6.4" text-anchor="middle" fill="#111" stroke="#111" stroke-width="0.15">HO</text>
<line x1="600.11" y1="519.56" x2="606.65" y2="523.34" stroke="#2a2a2a" stroke-width="0.8" stroke-linecap="round"/>
<polygon points="597.75,509.60 598.75,499.00 596.75,499.00" fill="#2a2a2a"/>
<line x1="607.61" y1="505.86" x2="606.61" y2="505.86" stroke="#2a2a2a" stroke-width="0.7" stroke-linecap="round"/>
<line x1="607.92" y1="507.51" x2="606.29" y2="507.51" stroke="#2a2a2a" stroke-width="0.7" stroke-linecap="round"/>
<line x1="608.32" y1="509.17" x2="605.89" y2="509.17" stroke="#2a2a2a" stroke-width="0.7" stroke-linecap="round"/>
<text x="607.80" y="517.50" font-size="6.6" text-anchor="middle" fill="#111" stroke="#111" stroke-width="0.15">H</text>
<polygon points="616.46,509.60 617.46,502.00 615.46,502.00" fill="#2a2a2a"/>
<text x="617.50" y="500.00" font-size="6.6" text-anchor="middle" fill="#111" stroke="#111" stroke-width="0.15">H</text>
<line x1="626.31" y1="505.86" x2="625.31" y2="505.86" stroke="#2a2a2a" stroke-width="0.7" stroke-linecap="round"/>
<line x1="626.62" y1="507.51" x2="625.00" y2="507.51" stroke="#2a2a2a" stroke-width="0.7" stroke-linecap="round"/>
<line x1="627.03" y1="509.17" x2="624.59" y2="509.17" stroke="#2a2a2a" stroke-width="0.7" stroke-linecap="round"/>
<text x="627.50" y="517.50" font-size="6.6" text-anchor="middle" fill="#111" stroke="#111" stroke-width="0.15">H</text>
<polygon points="625.81,493.40 626.81,482.30 624.81,482.30" fill="#2a2a2a"/>
<line x1="637.90" y1="489.31" x2="638.04" y2="490.31" stroke="#2a2a2a" stroke-width="0.7" stroke-linecap="round"/>
<line x1="639.77" y1="488.94" x2="639.94" y2="490.17" stroke="#2a2a2a" stroke-width="0.7" stroke-linecap="round"/>
<line x1="641.61" y1="488.38" x2="641.86" y2="490.22" stroke="#2a2a2a" stroke-width="0.7" stroke-linecap="round"/>
<line x1="643.46" y1="487.82" x2="643.79" y2="490.28" stroke="#2a2a2a" stroke-width="0.7" stroke-linecap="round"/>
<text x="648.50" y="491.50" font-size="6.6" text-anchor="middle" fill="#111" stroke="#111" stroke-width="0.15">H</text>
<line x1="636.08" y1="490.06" x2="642.40" y2="480.20" stroke="#2a2a2a" stroke-width="0.8" stroke-linecap="round"/>
<line x1="640.68" y1="478.16" x2="641.55" y2="477.67" stroke="#2a2a2a" stroke-width="0.7" stroke-linecap="round"/>
<line x1="639.29" y1="475.93" x2="640.37" y2="475.33" stroke="#2a2a2a" stroke-width="0.7" stroke-linecap="round"/>
<line x1="637.73" y1="473.80" x2="639.35" y2="472.89" stroke="#2a2a2a" stroke-width="0.7" stroke-linecap="round"/>
<line x1="636.18" y1="471.66" x2="638.34" y2="470.45" stroke="#2a2a2a" stroke-width="0.7" stroke-linecap="round"/>
<line x1="642.40" y1="480.20" x2="653.60" y2="480.20" stroke="#2a2a2a" stroke-width="0.8" stroke-linecap="round"/>
<line x1="653.60" y1="480.20" x2="660.00" y2="470.60" stroke="#2a2a2a" stroke-width="0.8" stroke-linecap="round"/>
<line x1="660.00" y1="470.60" x2="670.10" y2="470.60" stroke="#2a2a2a" stroke-width="0.8" stroke-linecap="round"/>
<line x1="670.10" y1="470.60" x2="676.00" y2="461.00" stroke="#2a2a2a" stroke-width="0.8" stroke-linecap="round"/>
<line x1="676.00" y1="461.00" x2="670.70" y2="451.90" stroke="#2a2a2a" stroke-width="0.8" stroke-linecap="round"/>
<line x1="676.00" y1="461.00" x2="686.70" y2="461.00" stroke="#2a2a2a" stroke-width="0.8" stroke-linecap="round"/>
<line x1="25.10" y1="494.20" x2="37.90" y2="497.60" stroke="#2a2a2a" stroke-width="0.8" stroke-linecap="round"/>
<line x1="37.90" y1="497.60" x2="51.50" y2="494.80" stroke="#2a2a2a" stroke-width="0.8" stroke-linecap="round"/>
<line x1="56.00" y1="497.00" x2="62.40" y2="506.50" stroke="#2a2a2a" stroke-width="0.8" stroke-linecap="round"/>
<polygon points="33.10,506.50 25.10,494.20 25.10,494.20" fill="#2a2a2a"/>
<line x1="25.10" y1="494.20" x2="33.10" y2="506.50" stroke="#2a2a2a" stroke-width="1.6" stroke-linecap="round"/>
<line x1="33.10" y1="506.50" x2="49.10" y2="503.30" stroke="#2a2a2a" stroke-width="1.8" stroke-linecap="round"/>
<polygon points="62.40,506.50 49.36,502.23 48.84,504.37" fill="#2a2a2a"/>
<line x1="31.50" y1="484.80" x2="31.50" y2="492.30" stroke="#2a2a2a" stroke-width="0.8" stroke-linecap="round"/>
<line x1="31.50" y1="492.30" x2="37.90" y2="497.60" stroke="#2a2a2a" stroke-width="0.8" stroke-linecap="round"/>
<text x="33.30" y="484.00" font-size="6.0" text-anchor="middle" fill="#111" stroke="#111" stroke-width="0.15">OH</text>
<text x="53.90" y="496.90" font-size="6.0" text-anchor="middle" fill="#111" stroke="#111" stroke-width="0.15">O</text>
<line x1="25.10" y1="494.20" x2="18.50" y2="497.50" stroke="#2a2a2a" stroke-width="0.8" stroke-linecap="round"/>
<text x="13.00" y="501.30" font-size="6.0" text-anchor="middle" fill="#111" stroke="#111" stroke-width="0.15">HO</text>
<line x1="33.10" y1="506.50" x2="26.00" y2="505.50" stroke="#2a2a2a" stroke-width="0.8" stroke-linecap="round"/>
<text x="20.50" y="506.20" font-size="6.0" text-anchor="middle" fill="#111" stroke="#111" stroke-width="0.15">HO</text>
<line x1="49.10" y1="503.30" x2="53.50" y2="507.50" stroke="#2a2a2a" stroke-width="0.8" stroke-linecap="round"/>
<text x="57.00" y="512.00" font-size="6.0" text-anchor="middle" fill="#111" stroke="#111" stroke-width="0.15">OH</text>
<line x1="62.40" y1="506.50" x2="68.30" y2="503.80" stroke="#2a2a2a" stroke-width="0.8" stroke-linecap="round"/>
<text x="71.00" y="505.30" font-size="6.0" text-anchor="middle" fill="#111" stroke="#111" stroke-width="0.15">O</text>
<line x1="73.80" y1="505.00" x2="80.50" y2="508.60" stroke="#2a2a2a" stroke-width="0.8" stroke-linecap="round"/>
<line x1="80.50" y1="508.60" x2="89.80" y2="503.50" stroke="#2a2a2a" stroke-width="0.8" stroke-linecap="round"/>
<line x1="89.80" y1="503.50" x2="99.80" y2="508.60" stroke="#2a2a2a" stroke-width="0.8" stroke-linecap="round"/>
<line x1="99.80" y1="508.60" x2="110.00" y2="503.50" stroke="#2a2a2a" stroke-width="0.8" stroke-linecap="round"/>
<line x1="110.00" y1="503.50" x2="120.20" y2="508.60" stroke="#2a2a2a" stroke-width="0.8" stroke-linecap="round"/>
<line x1="120.20" y1="508.60" x2="130.40" y2="503.50" stroke="#2a2a2a" stroke-width="0.8" stroke-linecap="round"/>
<line x1="130.40" y1="503.50" x2="140.60" y2="508.60" stroke="#2a2a2a" stroke-width="0.8" stroke-linecap="round"/>
<line x1="140.60" y1="508.60" x2="150.00" y2="503.50" stroke="#2a2a2a" stroke-width="0.8" stroke-linecap="round"/>
<text x="151.20" y="505.50" font-size="5.6" text-anchor="start" fill="#111" stroke="#111" stroke-width="0.15">CH<tspan font-size="4.2" dy="1">3</tspan></text></g>
<text x="18.40" y="553.00" font-size="13.2" font-weight="normal" text-anchor="start" fill="#111" textLength="130.60" lengthAdjust="spacingAndGlyphs" stroke="#111" stroke-width="0.3">Red - Octyl Glucoside</text>
<text x="195.00" y="553.00" font-size="13.2" font-weight="normal" text-anchor="start" fill="#111" textLength="113.50" lengthAdjust="spacingAndGlyphs" stroke="#111" stroke-width="0.3">Purple - Dinosterol</text>
<text x="366.00" y="553.00" font-size="13.2" font-weight="normal" text-anchor="start" fill="#111" textLength="149.50" lengthAdjust="spacingAndGlyphs" stroke="#111" stroke-width="0.3">Blue -Gymnodinosterol</text>
<text x="565.00" y="553.00" font-size="13.2" font-weight="normal" text-anchor="start" fill="#111" textLength="117.50" lengthAdjust="spacingAndGlyphs" stroke="#111" stroke-width="0.3">Green - Cholesterol</text>
</svg>
</body></html>
